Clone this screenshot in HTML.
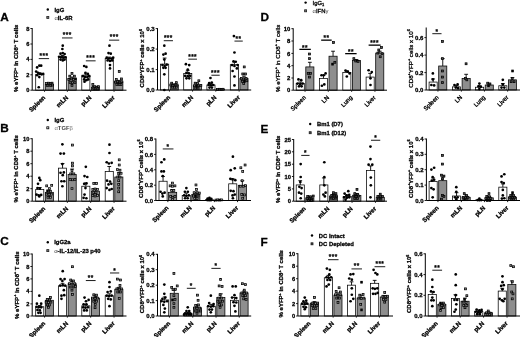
<!DOCTYPE html>
<html><head><meta charset="utf-8"><title>Figure</title>
<style>html,body{margin:0;padding:0;background:#fff}svg{display:block;filter:blur(0.35px)}text{font-family:'Liberation Sans', sans-serif;fill:#000;stroke:#000;stroke-width:.28px}tspan[fill]{stroke:none}.nb text{stroke-width:.3px}</style>
</head><body>
<svg width="520" height="337" viewBox="0 0 520 337">
<rect width="520" height="337" fill="#fff"/>
<g>
<rect x="35.7" y="74.3" width="8.1" height="15.9" fill="#fff" stroke="#000" stroke-width="0.75"/>
<path d="M39.75 74.3V72.83M37.85 72.83H41.65" stroke="#000" stroke-width="0.9" fill="none"/>
<rect x="45.3" y="84.46" width="8.1" height="5.74" fill="#8e8e8e" stroke="#000" stroke-width="0.75"/>
<path d="M49.35 84.46V83.54M47.45 83.54H51.25" stroke="#000" stroke-width="0.9" fill="none"/>
<text transform="translate(45.75,98) rotate(-45)" text-anchor="end" font-size="6.2" font-weight="bold">Spleen</text>
<rect x="58.5" y="56.77" width="8.1" height="33.43" fill="#fff" stroke="#000" stroke-width="0.75"/>
<path d="M62.55 56.77V55.48M60.65 55.48H64.45" stroke="#000" stroke-width="0.9" fill="none"/>
<rect x="68.1" y="78.37" width="8.1" height="11.83" fill="#8e8e8e" stroke="#000" stroke-width="0.75"/>
<path d="M72.15 78.37V77.07M70.25 77.07H74.05" stroke="#000" stroke-width="0.9" fill="none"/>
<text transform="translate(68.55,98) rotate(-45)" text-anchor="end" font-size="6.2" font-weight="bold">mLN</text>
<rect x="81.8" y="75.23" width="8.1" height="14.97" fill="#fff" stroke="#000" stroke-width="0.75"/>
<path d="M85.85 75.23V73.94M83.95 73.94H87.75" stroke="#000" stroke-width="0.9" fill="none"/>
<rect x="91.4" y="87.23" width="8.1" height="2.97" fill="#8e8e8e" stroke="#000" stroke-width="0.75"/>
<path d="M95.45 87.23V86.49M93.55 86.49H97.35" stroke="#000" stroke-width="0.9" fill="none"/>
<text transform="translate(91.85,98) rotate(-45)" text-anchor="end" font-size="6.2" font-weight="bold">pLN</text>
<rect x="105.2" y="58.61" width="8.1" height="31.59" fill="#fff" stroke="#000" stroke-width="0.75"/>
<path d="M109.25 58.61V57.14M107.35 57.14H111.15" stroke="#000" stroke-width="0.9" fill="none"/>
<rect x="114.8" y="81.69" width="8.1" height="8.51" fill="#8e8e8e" stroke="#000" stroke-width="0.75"/>
<path d="M118.85 81.69V80.4M116.95 80.4H120.75" stroke="#000" stroke-width="0.9" fill="none"/>
<text transform="translate(115.25,98) rotate(-45)" text-anchor="end" font-size="6.2" font-weight="bold">Liver</text>
<circle cx="37.09" cy="67.47" r="1.35"/>
<circle cx="39.31" cy="65.63" r="1.35"/>
<circle cx="41.15" cy="65.63" r="1.35"/>
<circle cx="36.17" cy="71.54" r="1.35"/>
<circle cx="38.01" cy="72.83" r="1.35"/>
<circle cx="39.86" cy="73.94" r="1.35"/>
<circle cx="41.71" cy="74.3" r="1.35"/>
<circle cx="43.18" cy="73.94" r="1.35"/>
<circle cx="37.09" cy="75.23" r="1.35"/>
<circle cx="39.31" cy="77.07" r="1.35"/>
<circle cx="38.75" cy="87.23" r="1.35"/>
<rect x="45.56" y="82.59" width="1.9" height="1.9" fill="#777" stroke="#000" stroke-width="0.75"/>
<rect x="47.4" y="82.22" width="1.9" height="1.9" fill="#777" stroke="#000" stroke-width="0.75"/>
<rect x="49.25" y="82.59" width="1.9" height="1.9" fill="#777" stroke="#000" stroke-width="0.75"/>
<rect x="51.09" y="82.22" width="1.9" height="1.9" fill="#777" stroke="#000" stroke-width="0.75"/>
<rect x="46.3" y="84.43" width="1.9" height="1.9" fill="#777" stroke="#000" stroke-width="0.75"/>
<rect x="48.14" y="84.25" width="1.9" height="1.9" fill="#777" stroke="#000" stroke-width="0.75"/>
<rect x="49.99" y="84.43" width="1.9" height="1.9" fill="#777" stroke="#000" stroke-width="0.75"/>
<rect x="51.46" y="84.06" width="1.9" height="1.9" fill="#777" stroke="#000" stroke-width="0.75"/>
<circle cx="62.75" cy="45.69" r="1.35"/>
<circle cx="62.38" cy="49.01" r="1.35"/>
<circle cx="60.54" cy="53.63" r="1.35"/>
<circle cx="62.75" cy="53.08" r="1.35"/>
<circle cx="64.6" cy="54" r="1.35"/>
<circle cx="59.06" cy="56.77" r="1.35"/>
<circle cx="60.91" cy="57.32" r="1.35"/>
<circle cx="63.12" cy="57.69" r="1.35"/>
<circle cx="65.34" cy="57.32" r="1.35"/>
<circle cx="60.54" cy="59.54" r="1.35"/>
<circle cx="62.75" cy="60.46" r="1.35"/>
<circle cx="64.6" cy="59.54" r="1.35"/>
<rect x="71.03" y="72.43" width="1.9" height="1.9" fill="#777" stroke="#000" stroke-width="0.75"/>
<rect x="68.82" y="75.2" width="1.9" height="1.9" fill="#777" stroke="#000" stroke-width="0.75"/>
<rect x="73.43" y="75.2" width="1.9" height="1.9" fill="#777" stroke="#000" stroke-width="0.75"/>
<rect x="67.89" y="78.52" width="1.9" height="1.9" fill="#777" stroke="#000" stroke-width="0.75"/>
<rect x="70.29" y="77.97" width="1.9" height="1.9" fill="#777" stroke="#000" stroke-width="0.75"/>
<rect x="72.51" y="78.52" width="1.9" height="1.9" fill="#777" stroke="#000" stroke-width="0.75"/>
<rect x="74.72" y="77.97" width="1.9" height="1.9" fill="#777" stroke="#000" stroke-width="0.75"/>
<rect x="69.19" y="81.66" width="1.9" height="1.9" fill="#777" stroke="#000" stroke-width="0.75"/>
<rect x="71.59" y="81.66" width="1.9" height="1.9" fill="#777" stroke="#000" stroke-width="0.75"/>
<rect x="73.99" y="81.66" width="1.9" height="1.9" fill="#777" stroke="#000" stroke-width="0.75"/>
<rect x="71.03" y="84.43" width="1.9" height="1.9" fill="#777" stroke="#000" stroke-width="0.75"/>
<circle cx="84.17" cy="66" r="1.35"/>
<circle cx="86.38" cy="66.92" r="1.35"/>
<circle cx="85.46" cy="72.83" r="1.35"/>
<circle cx="87.86" cy="73.94" r="1.35"/>
<circle cx="83.06" cy="76.15" r="1.35"/>
<circle cx="84.9" cy="77.07" r="1.35"/>
<circle cx="87.3" cy="77.07" r="1.35"/>
<circle cx="89.15" cy="76.15" r="1.35"/>
<circle cx="84.17" cy="79.47" r="1.35"/>
<circle cx="86.38" cy="80.21" r="1.35"/>
<circle cx="88.23" cy="79.47" r="1.35"/>
<circle cx="84.54" cy="81.69" r="1.35"/>
<rect x="91.89" y="83.51" width="1.9" height="1.9" fill="#777" stroke="#000" stroke-width="0.75"/>
<rect x="92.08" y="86.28" width="1.9" height="1.9" fill="#777" stroke="#000" stroke-width="0.75"/>
<rect x="93.92" y="85.72" width="1.9" height="1.9" fill="#777" stroke="#000" stroke-width="0.75"/>
<rect x="95.77" y="86.28" width="1.9" height="1.9" fill="#777" stroke="#000" stroke-width="0.75"/>
<rect x="97.62" y="85.72" width="1.9" height="1.9" fill="#777" stroke="#000" stroke-width="0.75"/>
<rect x="93" y="87.94" width="1.9" height="1.9" fill="#777" stroke="#000" stroke-width="0.75"/>
<rect x="95.03" y="87.94" width="1.9" height="1.9" fill="#777" stroke="#000" stroke-width="0.75"/>
<rect x="96.88" y="87.94" width="1.9" height="1.9" fill="#777" stroke="#000" stroke-width="0.75"/>
<circle cx="109.46" cy="45.69" r="1.35"/>
<circle cx="108.53" cy="53.08" r="1.35"/>
<circle cx="110.75" cy="53.63" r="1.35"/>
<circle cx="106.69" cy="57.69" r="1.35"/>
<circle cx="108.9" cy="58.61" r="1.35"/>
<circle cx="111.3" cy="58.61" r="1.35"/>
<circle cx="113.15" cy="57.69" r="1.35"/>
<circle cx="107.61" cy="60.46" r="1.35"/>
<circle cx="110.01" cy="61.01" r="1.35"/>
<circle cx="112.23" cy="60.46" r="1.35"/>
<circle cx="110.01" cy="65.07" r="1.35"/>
<circle cx="110.01" cy="68.4" r="1.35"/>
<rect x="118.29" y="70.59" width="1.9" height="1.9" fill="#777" stroke="#000" stroke-width="0.75"/>
<rect x="115.34" y="78.52" width="1.9" height="1.9" fill="#777" stroke="#000" stroke-width="0.75"/>
<rect x="120.51" y="77.97" width="1.9" height="1.9" fill="#777" stroke="#000" stroke-width="0.75"/>
<rect x="114.6" y="81.11" width="1.9" height="1.9" fill="#777" stroke="#000" stroke-width="0.75"/>
<rect x="116.81" y="80.74" width="1.9" height="1.9" fill="#777" stroke="#000" stroke-width="0.75"/>
<rect x="119.03" y="81.11" width="1.9" height="1.9" fill="#777" stroke="#000" stroke-width="0.75"/>
<rect x="120.88" y="80.74" width="1.9" height="1.9" fill="#777" stroke="#000" stroke-width="0.75"/>
<rect x="115.89" y="83.51" width="1.9" height="1.9" fill="#777" stroke="#000" stroke-width="0.75"/>
<rect x="118.29" y="83.51" width="1.9" height="1.9" fill="#777" stroke="#000" stroke-width="0.75"/>
<rect x="120.14" y="83.51" width="1.9" height="1.9" fill="#777" stroke="#000" stroke-width="0.75"/>
<path d="M32.2 28.05V90.2H126.5" stroke="#000" stroke-width="1" fill="none"/>
<path d="M44.55 90.2v1.6" stroke="#000" stroke-width="0.9"/>
<path d="M67.35 90.2v1.6" stroke="#000" stroke-width="0.9"/>
<path d="M90.65 90.2v1.6" stroke="#000" stroke-width="0.9"/>
<path d="M114.05 90.2v1.6" stroke="#000" stroke-width="0.9"/>
<path d="M30.4 90.2H32.2" stroke="#000" stroke-width="0.9"/>
<text x="29.4" y="92.25" text-anchor="end" font-size="5.7" font-weight="bold">0</text>
<path d="M30.4 74.8H32.2" stroke="#000" stroke-width="0.9"/>
<text x="29.4" y="76.85" text-anchor="end" font-size="5.7" font-weight="bold">2</text>
<path d="M30.4 59.4H32.2" stroke="#000" stroke-width="0.9"/>
<text x="29.4" y="61.45" text-anchor="end" font-size="5.7" font-weight="bold">4</text>
<path d="M30.4 44H32.2" stroke="#000" stroke-width="0.9"/>
<text x="29.4" y="46.05" text-anchor="end" font-size="5.7" font-weight="bold">6</text>
<path d="M30.4 28.5H32.2" stroke="#000" stroke-width="0.9"/>
<text x="29.4" y="30.55" text-anchor="end" font-size="5.7" font-weight="bold">8</text>
<text transform="translate(18.3,58.25) rotate(-90)" text-anchor="middle" font-size="6.0" font-weight="bold">% eYFP<tspan dy="-2.28" font-size="3.72">+</tspan><tspan dy="2.28"> in CD8</tspan><tspan dy="-2.28" font-size="3.72">+</tspan><tspan dy="2.28"> T cells</tspan></text>
<path d="M38.75 58.61H49.09" stroke="#000" stroke-width="0.9"/>
<text x="43.92" y="57.76" text-anchor="middle" font-size="6.4" letter-spacing="0.5" font-weight="bold" style="stroke-width:.22px">***</text>
<path d="M62.01 37.94H72.54" stroke="#000" stroke-width="0.9"/>
<text x="67.27" y="37.08" text-anchor="middle" font-size="6.4" letter-spacing="0.5" font-weight="bold" style="stroke-width:.22px">***</text>
<path d="M85.83 60.83H95.61" stroke="#000" stroke-width="0.9"/>
<text x="90.72" y="59.97" text-anchor="middle" font-size="6.4" letter-spacing="0.5" font-weight="bold" style="stroke-width:.22px">***</text>
<path d="M109.09 40.15H119.24" stroke="#000" stroke-width="0.9"/>
<text x="114.16" y="39.3" text-anchor="middle" font-size="6.4" letter-spacing="0.5" font-weight="bold" style="stroke-width:.22px">***</text>
</g>
<g>
<rect x="160.6" y="64.15" width="8.1" height="25.85" fill="#fff" stroke="#000" stroke-width="0.75"/>
<path d="M164.65 64.15V58.06M162.75 58.06H166.55" stroke="#000" stroke-width="0.9" fill="none"/>
<rect x="170.2" y="85.01" width="8.1" height="4.99" fill="#8e8e8e" stroke="#000" stroke-width="0.75"/>
<path d="M174.25 85.01V83.9M172.35 83.9H176.15" stroke="#000" stroke-width="0.9" fill="none"/>
<text transform="translate(170.65,97.8) rotate(-45)" text-anchor="end" font-size="6.2" font-weight="bold">Spleen</text>
<rect x="183.7" y="73.38" width="8.1" height="16.62" fill="#fff" stroke="#000" stroke-width="0.75"/>
<path d="M187.75 73.38V70.24M185.85 70.24H189.65" stroke="#000" stroke-width="0.9" fill="none"/>
<rect x="193.3" y="85.38" width="8.1" height="4.62" fill="#8e8e8e" stroke="#000" stroke-width="0.75"/>
<path d="M197.35 85.38V83.9M195.45 83.9H199.25" stroke="#000" stroke-width="0.9" fill="none"/>
<text transform="translate(193.75,97.8) rotate(-45)" text-anchor="end" font-size="6.2" font-weight="bold">mLN</text>
<rect x="206.9" y="85.01" width="8.1" height="4.99" fill="#fff" stroke="#000" stroke-width="0.75"/>
<path d="M210.95 85.01V83.17M209.05 83.17H212.85" stroke="#000" stroke-width="0.9" fill="none"/>
<rect x="216.5" y="89.07" width="8.1" height="0.93" fill="#8e8e8e" stroke="#000" stroke-width="0.75"/>
<path d="M220.55 89.07V88.7M218.65 88.7H222.45" stroke="#000" stroke-width="0.9" fill="none"/>
<text transform="translate(216.95,97.8) rotate(-45)" text-anchor="end" font-size="6.2" font-weight="bold">pLN</text>
<rect x="230.3" y="64.71" width="8.1" height="25.29" fill="#fff" stroke="#000" stroke-width="0.75"/>
<path d="M234.35 64.71V61.75M232.45 61.75H236.25" stroke="#000" stroke-width="0.9" fill="none"/>
<rect x="239.9" y="78.37" width="8.1" height="11.63" fill="#8e8e8e" stroke="#000" stroke-width="0.75"/>
<path d="M243.95 78.37V76.15M242.05 76.15H245.85" stroke="#000" stroke-width="0.9" fill="none"/>
<text transform="translate(240.35,97.8) rotate(-45)" text-anchor="end" font-size="6.2" font-weight="bold">Liver</text>
<circle cx="164.31" cy="45.69" r="1.35"/>
<circle cx="163.38" cy="54.55" r="1.35"/>
<circle cx="165.6" cy="53.63" r="1.35"/>
<circle cx="164.31" cy="59.54" r="1.35"/>
<circle cx="162.46" cy="65.07" r="1.35"/>
<circle cx="164.68" cy="66" r="1.35"/>
<circle cx="166.71" cy="64.71" r="1.35"/>
<circle cx="163.38" cy="67.84" r="1.35"/>
<circle cx="165.6" cy="67.84" r="1.35"/>
<circle cx="164.31" cy="74.3" r="1.35"/>
<circle cx="164.31" cy="90" r="1.35"/>
<rect x="170.74" y="82.22" width="1.9" height="1.9" fill="#777" stroke="#000" stroke-width="0.75"/>
<rect x="175.36" y="81.66" width="1.9" height="1.9" fill="#777" stroke="#000" stroke-width="0.75"/>
<rect x="169.82" y="84.06" width="1.9" height="1.9" fill="#777" stroke="#000" stroke-width="0.75"/>
<rect x="172.03" y="84.43" width="1.9" height="1.9" fill="#777" stroke="#000" stroke-width="0.75"/>
<rect x="174.25" y="84.06" width="1.9" height="1.9" fill="#777" stroke="#000" stroke-width="0.75"/>
<rect x="176.09" y="84.06" width="1.9" height="1.9" fill="#777" stroke="#000" stroke-width="0.75"/>
<rect x="171.3" y="86.28" width="1.9" height="1.9" fill="#777" stroke="#000" stroke-width="0.75"/>
<rect x="173.51" y="86.28" width="1.9" height="1.9" fill="#777" stroke="#000" stroke-width="0.75"/>
<rect x="175.36" y="86.28" width="1.9" height="1.9" fill="#777" stroke="#000" stroke-width="0.75"/>
<circle cx="185.91" cy="64.15" r="1.35"/>
<circle cx="189.23" cy="65.07" r="1.35"/>
<circle cx="187.75" cy="69.69" r="1.35"/>
<circle cx="186.46" cy="72.83" r="1.35"/>
<circle cx="188.86" cy="73.38" r="1.35"/>
<circle cx="185.17" cy="75.78" r="1.35"/>
<circle cx="187.75" cy="76.15" r="1.35"/>
<circle cx="190.15" cy="75.78" r="1.35"/>
<circle cx="186.46" cy="78.37" r="1.35"/>
<circle cx="189.23" cy="78.37" r="1.35"/>
<rect x="197.88" y="79.82" width="1.9" height="1.9" fill="#777" stroke="#000" stroke-width="0.75"/>
<rect x="194.19" y="82.22" width="1.9" height="1.9" fill="#777" stroke="#000" stroke-width="0.75"/>
<rect x="196.59" y="82.59" width="1.9" height="1.9" fill="#777" stroke="#000" stroke-width="0.75"/>
<rect x="193.45" y="84.8" width="1.9" height="1.9" fill="#777" stroke="#000" stroke-width="0.75"/>
<rect x="195.66" y="84.99" width="1.9" height="1.9" fill="#777" stroke="#000" stroke-width="0.75"/>
<rect x="197.88" y="84.8" width="1.9" height="1.9" fill="#777" stroke="#000" stroke-width="0.75"/>
<rect x="199.91" y="84.43" width="1.9" height="1.9" fill="#777" stroke="#000" stroke-width="0.75"/>
<rect x="194.74" y="87.2" width="1.9" height="1.9" fill="#777" stroke="#000" stroke-width="0.75"/>
<rect x="197.14" y="87.2" width="1.9" height="1.9" fill="#777" stroke="#000" stroke-width="0.75"/>
<circle cx="210.46" cy="78" r="1.35"/>
<circle cx="209.17" cy="83.17" r="1.35"/>
<circle cx="211.75" cy="82.61" r="1.35"/>
<circle cx="208.61" cy="85.01" r="1.35"/>
<circle cx="210.83" cy="85.38" r="1.35"/>
<circle cx="213.23" cy="85.01" r="1.35"/>
<circle cx="209.54" cy="87.6" r="1.35"/>
<circle cx="211.94" cy="87.6" r="1.35"/>
<rect x="216.52" y="88.49" width="1.9" height="1.9" fill="#777" stroke="#000" stroke-width="0.75"/>
<rect x="218.37" y="88.31" width="1.9" height="1.9" fill="#777" stroke="#000" stroke-width="0.75"/>
<rect x="220.22" y="88.49" width="1.9" height="1.9" fill="#777" stroke="#000" stroke-width="0.75"/>
<rect x="222.06" y="88.31" width="1.9" height="1.9" fill="#777" stroke="#000" stroke-width="0.75"/>
<circle cx="233.9" cy="36.09" r="1.35"/>
<circle cx="234.46" cy="52.52" r="1.35"/>
<circle cx="233.53" cy="61.38" r="1.35"/>
<circle cx="235.75" cy="61.75" r="1.35"/>
<circle cx="232.06" cy="65.07" r="1.35"/>
<circle cx="234.46" cy="66" r="1.35"/>
<circle cx="236.86" cy="68.4" r="1.35"/>
<circle cx="237.59" cy="65.07" r="1.35"/>
<circle cx="232.61" cy="70.98" r="1.35"/>
<circle cx="234.46" cy="76.52" r="1.35"/>
<circle cx="234.46" cy="85.38" r="1.35"/>
<rect x="243.29" y="65.97" width="1.9" height="1.9" fill="#777" stroke="#000" stroke-width="0.75"/>
<rect x="241.81" y="72.99" width="1.9" height="1.9" fill="#777" stroke="#000" stroke-width="0.75"/>
<rect x="244.58" y="72.99" width="1.9" height="1.9" fill="#777" stroke="#000" stroke-width="0.75"/>
<rect x="240.34" y="77.42" width="1.9" height="1.9" fill="#777" stroke="#000" stroke-width="0.75"/>
<rect x="242.74" y="77.97" width="1.9" height="1.9" fill="#777" stroke="#000" stroke-width="0.75"/>
<rect x="245.14" y="77.42" width="1.9" height="1.9" fill="#777" stroke="#000" stroke-width="0.75"/>
<rect x="241.44" y="80.37" width="1.9" height="1.9" fill="#777" stroke="#000" stroke-width="0.75"/>
<rect x="243.66" y="80.37" width="1.9" height="1.9" fill="#777" stroke="#000" stroke-width="0.75"/>
<rect x="245.88" y="79.82" width="1.9" height="1.9" fill="#777" stroke="#000" stroke-width="0.75"/>
<rect x="242.74" y="82.59" width="1.9" height="1.9" fill="#777" stroke="#000" stroke-width="0.75"/>
<path d="M157.5 28.15V90H251.2" stroke="#000" stroke-width="1" fill="none"/>
<path d="M169.45 90v1.6" stroke="#000" stroke-width="0.9"/>
<path d="M192.55 90v1.6" stroke="#000" stroke-width="0.9"/>
<path d="M215.75 90v1.6" stroke="#000" stroke-width="0.9"/>
<path d="M239.15 90v1.6" stroke="#000" stroke-width="0.9"/>
<path d="M155.7 90H157.5" stroke="#000" stroke-width="0.9"/>
<text x="154.7" y="92.16" text-anchor="end" font-size="6.0" font-weight="bold">0.0</text>
<path d="M155.7 69.6H157.5" stroke="#000" stroke-width="0.9"/>
<text x="154.7" y="71.76" text-anchor="end" font-size="6.0" font-weight="bold">0.1</text>
<path d="M155.7 49.1H157.5" stroke="#000" stroke-width="0.9"/>
<text x="154.7" y="51.26" text-anchor="end" font-size="6.0" font-weight="bold">0.2</text>
<path d="M155.7 28.6H157.5" stroke="#000" stroke-width="0.9"/>
<text x="154.7" y="30.76" text-anchor="end" font-size="6.0" font-weight="bold">0.3</text>
<text transform="translate(144.2,58.2) rotate(-90)" text-anchor="middle" font-size="6.0" font-weight="bold">CD8<tspan dy="-2.28" font-size="3.72">+</tspan><tspan dy="2.28">YFP</tspan><tspan dy="-2.28" font-size="3.72">+</tspan><tspan dy="2.28"> cells x 10</tspan><tspan dy="-2.28" font-size="3.72">6</tspan></text>
<path d="M163.75 40.71H172.98" stroke="#000" stroke-width="0.9"/>
<text x="168.37" y="40.35" text-anchor="middle" font-size="6.4" letter-spacing="0.5" font-weight="bold" style="stroke-width:.22px">***</text>
<path d="M188.31 59.17H196.98" stroke="#000" stroke-width="0.9"/>
<text x="192.64" y="58.81" text-anchor="middle" font-size="6.4" letter-spacing="0.5" font-weight="bold" style="stroke-width:.22px">***</text>
<path d="M211.38 75.23H219.69" stroke="#000" stroke-width="0.9"/>
<text x="215.53" y="74.87" text-anchor="middle" font-size="6.4" letter-spacing="0.5" font-weight="bold" style="stroke-width:.22px">***</text>
<path d="M234.46 41.08H242.76" stroke="#000" stroke-width="0.9"/>
<text x="238.61" y="40.72" text-anchor="middle" font-size="6.4" letter-spacing="0.5" font-weight="bold" style="stroke-width:.22px">**</text>
</g>
<g>
<rect x="35.7" y="189.37" width="8.1" height="11.83" fill="#fff" stroke="#000" stroke-width="0.75"/>
<path d="M39.75 189.37V187.52M37.85 187.52H41.65" stroke="#000" stroke-width="0.9" fill="none"/>
<rect x="45.3" y="192.32" width="8.1" height="8.88" fill="#8e8e8e" stroke="#000" stroke-width="0.75"/>
<path d="M49.35 192.32V190.47M47.45 190.47H51.25" stroke="#000" stroke-width="0.9" fill="none"/>
<text transform="translate(45.75,209) rotate(-45)" text-anchor="end" font-size="6.2" font-weight="bold">Spleen</text>
<rect x="58.5" y="168.14" width="8.1" height="33.06" fill="#fff" stroke="#000" stroke-width="0.75"/>
<path d="M62.55 168.14V163.52M60.65 163.52H64.45" stroke="#000" stroke-width="0.9" fill="none"/>
<rect x="68.1" y="174.6" width="8.1" height="26.6" fill="#8e8e8e" stroke="#000" stroke-width="0.75"/>
<path d="M72.15 174.6V169.06M70.25 169.06H74.05" stroke="#000" stroke-width="0.9" fill="none"/>
<text transform="translate(68.55,209) rotate(-45)" text-anchor="end" font-size="6.2" font-weight="bold">mLN</text>
<rect x="81.8" y="186.23" width="8.1" height="14.97" fill="#fff" stroke="#000" stroke-width="0.75"/>
<path d="M85.85 186.23V183.09M83.95 183.09H87.75" stroke="#000" stroke-width="0.9" fill="none"/>
<rect x="91.4" y="191.21" width="8.1" height="9.99" fill="#8e8e8e" stroke="#000" stroke-width="0.75"/>
<path d="M95.45 191.21V189.37M93.55 189.37H97.35" stroke="#000" stroke-width="0.9" fill="none"/>
<text transform="translate(91.85,209) rotate(-45)" text-anchor="end" font-size="6.2" font-weight="bold">pLN</text>
<rect x="105.2" y="171.46" width="8.1" height="29.74" fill="#fff" stroke="#000" stroke-width="0.75"/>
<path d="M109.25 171.46V166.48M107.35 166.48H111.15" stroke="#000" stroke-width="0.9" fill="none"/>
<rect x="114.8" y="177" width="8.1" height="24.2" fill="#8e8e8e" stroke="#000" stroke-width="0.75"/>
<path d="M118.85 177V172.38M116.95 172.38H120.75" stroke="#000" stroke-width="0.9" fill="none"/>
<text transform="translate(115.25,209) rotate(-45)" text-anchor="end" font-size="6.2" font-weight="bold">Liver</text>
<circle cx="39.31" cy="177.92" r="1.35"/>
<circle cx="40.23" cy="180.14" r="1.35"/>
<circle cx="38.01" cy="183.83" r="1.35"/>
<circle cx="37.46" cy="188.07" r="1.35"/>
<circle cx="39.86" cy="188.63" r="1.35"/>
<circle cx="36.54" cy="194.54" r="1.35"/>
<circle cx="38.75" cy="195.46" r="1.35"/>
<circle cx="41.15" cy="194.9" r="1.35"/>
<circle cx="39.31" cy="196.38" r="1.35"/>
<rect x="45.74" y="184.91" width="1.9" height="1.9" fill="#a8a8a8" stroke="#000" stroke-width="0.75"/>
<rect x="50.73" y="184.35" width="1.9" height="1.9" fill="#a8a8a8" stroke="#000" stroke-width="0.75"/>
<rect x="48.51" y="187.68" width="1.9" height="1.9" fill="#a8a8a8" stroke="#000" stroke-width="0.75"/>
<rect x="46.66" y="189.89" width="1.9" height="1.9" fill="#a8a8a8" stroke="#000" stroke-width="0.75"/>
<rect x="49.43" y="190.26" width="1.9" height="1.9" fill="#a8a8a8" stroke="#000" stroke-width="0.75"/>
<rect x="45.74" y="193.22" width="1.9" height="1.9" fill="#a8a8a8" stroke="#000" stroke-width="0.75"/>
<rect x="48.14" y="193.59" width="1.9" height="1.9" fill="#a8a8a8" stroke="#000" stroke-width="0.75"/>
<rect x="50.36" y="193.22" width="1.9" height="1.9" fill="#a8a8a8" stroke="#000" stroke-width="0.75"/>
<rect x="47.03" y="196.35" width="1.9" height="1.9" fill="#a8a8a8" stroke="#000" stroke-width="0.75"/>
<rect x="49.43" y="196.35" width="1.9" height="1.9" fill="#a8a8a8" stroke="#000" stroke-width="0.75"/>
<circle cx="62.38" cy="144.32" r="1.35"/>
<circle cx="60.54" cy="153.55" r="1.35"/>
<circle cx="63.86" cy="153.55" r="1.35"/>
<circle cx="62.38" cy="164.08" r="1.35"/>
<circle cx="60.54" cy="172.75" r="1.35"/>
<circle cx="63.86" cy="172.38" r="1.35"/>
<circle cx="62.75" cy="175.15" r="1.35"/>
<circle cx="61.46" cy="181.24" r="1.35"/>
<circle cx="64.23" cy="181.24" r="1.35"/>
<circle cx="62.38" cy="186.23" r="1.35"/>
<rect x="71.59" y="144.11" width="1.9" height="1.9" fill="#a8a8a8" stroke="#000" stroke-width="0.75"/>
<rect x="71.59" y="162.2" width="1.9" height="1.9" fill="#a8a8a8" stroke="#000" stroke-width="0.75"/>
<rect x="71.59" y="164.97" width="1.9" height="1.9" fill="#a8a8a8" stroke="#000" stroke-width="0.75"/>
<rect x="71.03" y="169.59" width="1.9" height="1.9" fill="#a8a8a8" stroke="#000" stroke-width="0.75"/>
<rect x="69.74" y="172.91" width="1.9" height="1.9" fill="#a8a8a8" stroke="#000" stroke-width="0.75"/>
<rect x="72.88" y="172.91" width="1.9" height="1.9" fill="#a8a8a8" stroke="#000" stroke-width="0.75"/>
<rect x="69.19" y="178.45" width="1.9" height="1.9" fill="#a8a8a8" stroke="#000" stroke-width="0.75"/>
<rect x="71.59" y="178.82" width="1.9" height="1.9" fill="#a8a8a8" stroke="#000" stroke-width="0.75"/>
<rect x="73.99" y="178.45" width="1.9" height="1.9" fill="#a8a8a8" stroke="#000" stroke-width="0.75"/>
<rect x="71.03" y="187.68" width="1.9" height="1.9" fill="#a8a8a8" stroke="#000" stroke-width="0.75"/>
<circle cx="85.83" cy="166.84" r="1.35"/>
<circle cx="84.54" cy="176.07" r="1.35"/>
<circle cx="87.3" cy="177" r="1.35"/>
<circle cx="84.17" cy="183.83" r="1.35"/>
<circle cx="86.38" cy="183.46" r="1.35"/>
<circle cx="85.46" cy="188.07" r="1.35"/>
<circle cx="84.54" cy="194.54" r="1.35"/>
<circle cx="83.61" cy="197.86" r="1.35"/>
<circle cx="86.38" cy="198.23" r="1.35"/>
<rect x="92.82" y="182.51" width="1.9" height="1.9" fill="#a8a8a8" stroke="#000" stroke-width="0.75"/>
<rect x="95.58" y="182.51" width="1.9" height="1.9" fill="#a8a8a8" stroke="#000" stroke-width="0.75"/>
<rect x="91.89" y="188.42" width="1.9" height="1.9" fill="#a8a8a8" stroke="#000" stroke-width="0.75"/>
<rect x="94.11" y="188.05" width="1.9" height="1.9" fill="#a8a8a8" stroke="#000" stroke-width="0.75"/>
<rect x="96.51" y="188.42" width="1.9" height="1.9" fill="#a8a8a8" stroke="#000" stroke-width="0.75"/>
<rect x="92.82" y="191.74" width="1.9" height="1.9" fill="#a8a8a8" stroke="#000" stroke-width="0.75"/>
<rect x="95.03" y="191.74" width="1.9" height="1.9" fill="#a8a8a8" stroke="#000" stroke-width="0.75"/>
<rect x="91.89" y="194.51" width="1.9" height="1.9" fill="#a8a8a8" stroke="#000" stroke-width="0.75"/>
<rect x="94.11" y="195.06" width="1.9" height="1.9" fill="#a8a8a8" stroke="#000" stroke-width="0.75"/>
<rect x="96.51" y="194.51" width="1.9" height="1.9" fill="#a8a8a8" stroke="#000" stroke-width="0.75"/>
<circle cx="109.46" cy="144.69" r="1.35"/>
<circle cx="109.46" cy="153" r="1.35"/>
<circle cx="106.69" cy="162.23" r="1.35"/>
<circle cx="108.9" cy="163.52" r="1.35"/>
<circle cx="111.67" cy="162.78" r="1.35"/>
<circle cx="107.06" cy="180.69" r="1.35"/>
<circle cx="110.01" cy="181.61" r="1.35"/>
<circle cx="108.53" cy="184.38" r="1.35"/>
<circle cx="111.3" cy="183.83" r="1.35"/>
<circle cx="106.69" cy="188.07" r="1.35"/>
<circle cx="109.46" cy="189.92" r="1.35"/>
<circle cx="111.67" cy="189" r="1.35"/>
<rect x="118.29" y="158.88" width="1.9" height="1.9" fill="#a8a8a8" stroke="#000" stroke-width="0.75"/>
<rect x="118.29" y="164.05" width="1.9" height="1.9" fill="#a8a8a8" stroke="#000" stroke-width="0.75"/>
<rect x="116.44" y="168.66" width="1.9" height="1.9" fill="#a8a8a8" stroke="#000" stroke-width="0.75"/>
<rect x="119.03" y="169.22" width="1.9" height="1.9" fill="#a8a8a8" stroke="#000" stroke-width="0.75"/>
<rect x="117.74" y="172.91" width="1.9" height="1.9" fill="#a8a8a8" stroke="#000" stroke-width="0.75"/>
<rect x="120.14" y="172.36" width="1.9" height="1.9" fill="#a8a8a8" stroke="#000" stroke-width="0.75"/>
<rect x="116.81" y="176.05" width="1.9" height="1.9" fill="#a8a8a8" stroke="#000" stroke-width="0.75"/>
<rect x="119.03" y="176.05" width="1.9" height="1.9" fill="#a8a8a8" stroke="#000" stroke-width="0.75"/>
<rect x="117.74" y="179.74" width="1.9" height="1.9" fill="#a8a8a8" stroke="#000" stroke-width="0.75"/>
<rect x="117.74" y="183.43" width="1.9" height="1.9" fill="#a8a8a8" stroke="#000" stroke-width="0.75"/>
<rect x="117.74" y="187.12" width="1.9" height="1.9" fill="#a8a8a8" stroke="#000" stroke-width="0.75"/>
<rect x="117.74" y="190.82" width="1.9" height="1.9" fill="#a8a8a8" stroke="#000" stroke-width="0.75"/>
<path d="M32.2 138.25V201.2H126.5" stroke="#000" stroke-width="1" fill="none"/>
<path d="M44.55 201.2v1.6" stroke="#000" stroke-width="0.9"/>
<path d="M67.35 201.2v1.6" stroke="#000" stroke-width="0.9"/>
<path d="M90.65 201.2v1.6" stroke="#000" stroke-width="0.9"/>
<path d="M114.05 201.2v1.6" stroke="#000" stroke-width="0.9"/>
<path d="M30.4 201.2H32.2" stroke="#000" stroke-width="0.9"/>
<text x="29.4" y="203.25" text-anchor="end" font-size="5.7" font-weight="bold">0</text>
<path d="M30.4 188.7H32.2" stroke="#000" stroke-width="0.9"/>
<text x="29.4" y="190.75" text-anchor="end" font-size="5.7" font-weight="bold">2</text>
<path d="M30.4 176.2H32.2" stroke="#000" stroke-width="0.9"/>
<text x="29.4" y="178.25" text-anchor="end" font-size="5.7" font-weight="bold">4</text>
<path d="M30.4 163.7H32.2" stroke="#000" stroke-width="0.9"/>
<text x="29.4" y="165.75" text-anchor="end" font-size="5.7" font-weight="bold">6</text>
<path d="M30.4 151.2H32.2" stroke="#000" stroke-width="0.9"/>
<text x="29.4" y="153.25" text-anchor="end" font-size="5.7" font-weight="bold">8</text>
<path d="M30.4 138.7H32.2" stroke="#000" stroke-width="0.9"/>
<text x="29.4" y="140.75" text-anchor="end" font-size="5.7" font-weight="bold">10</text>
<text transform="translate(18.3,168.85) rotate(-90)" text-anchor="middle" font-size="6.0" font-weight="bold">% eYFP<tspan dy="-2.28" font-size="3.72">+</tspan><tspan dy="2.28"> in CD8</tspan><tspan dy="-2.28" font-size="3.72">+</tspan><tspan dy="2.28"> T cells</tspan></text>
</g>
<g>
<rect x="159" y="181.24" width="8.1" height="19.26" fill="#fff" stroke="#000" stroke-width="0.75"/>
<path d="M163.05 181.24V176.44M161.15 176.44H164.95" stroke="#000" stroke-width="0.9" fill="none"/>
<rect x="168.6" y="192.32" width="8.1" height="8.18" fill="#8e8e8e" stroke="#000" stroke-width="0.75"/>
<path d="M172.65 192.32V189.92M170.75 189.92H174.55" stroke="#000" stroke-width="0.9" fill="none"/>
<text transform="translate(169.05,208.3) rotate(-45)" text-anchor="end" font-size="6.2" font-weight="bold">Spleen</text>
<rect x="182.2" y="195.46" width="8.1" height="5.04" fill="#fff" stroke="#000" stroke-width="0.75"/>
<path d="M186.25 195.46V193.06M184.35 193.06H188.15" stroke="#000" stroke-width="0.9" fill="none"/>
<rect x="191.8" y="194.54" width="8.1" height="5.96" fill="#8e8e8e" stroke="#000" stroke-width="0.75"/>
<path d="M195.85 194.54V192.32M193.95 192.32H197.75" stroke="#000" stroke-width="0.9" fill="none"/>
<text transform="translate(192.25,208.3) rotate(-45)" text-anchor="end" font-size="6.2" font-weight="bold">mLN</text>
<rect x="205.5" y="199.7" width="8.1" height="0.8" fill="#fff" stroke="#000" stroke-width="0.75"/>
<path d="M209.55 199.7V199.15M207.65 199.15H211.45" stroke="#000" stroke-width="0.9" fill="none"/>
<rect x="215.1" y="200.2" width="8.1" height="0.3" fill="#8e8e8e" stroke="#000" stroke-width="0.75"/>
<text transform="translate(215.55,208.3) rotate(-45)" text-anchor="end" font-size="6.2" font-weight="bold">pLN</text>
<rect x="228.7" y="183.83" width="8.1" height="16.67" fill="#fff" stroke="#000" stroke-width="0.75"/>
<path d="M232.75 183.83V178.84M230.85 178.84H234.65" stroke="#000" stroke-width="0.9" fill="none"/>
<rect x="238.3" y="185.3" width="8.1" height="15.2" fill="#8e8e8e" stroke="#000" stroke-width="0.75"/>
<path d="M242.35 185.3V180.69M240.45 180.69H244.25" stroke="#000" stroke-width="0.9" fill="none"/>
<text transform="translate(238.75,208.3) rotate(-45)" text-anchor="end" font-size="6.2" font-weight="bold">Liver</text>
<circle cx="161.46" cy="162.23" r="1.35"/>
<circle cx="164.23" cy="159.46" r="1.35"/>
<circle cx="161.46" cy="171.46" r="1.35"/>
<circle cx="163.86" cy="171.46" r="1.35"/>
<circle cx="162.75" cy="176.07" r="1.35"/>
<circle cx="160.54" cy="191.77" r="1.35"/>
<circle cx="162.38" cy="193.61" r="1.35"/>
<circle cx="164.6" cy="192.69" r="1.35"/>
<circle cx="162.75" cy="196.38" r="1.35"/>
<rect x="171.59" y="182.14" width="1.9" height="1.9" fill="#a8a8a8" stroke="#000" stroke-width="0.75"/>
<rect x="169.19" y="184.91" width="1.9" height="1.9" fill="#a8a8a8" stroke="#000" stroke-width="0.75"/>
<rect x="171.59" y="185.28" width="1.9" height="1.9" fill="#a8a8a8" stroke="#000" stroke-width="0.75"/>
<rect x="173.99" y="184.91" width="1.9" height="1.9" fill="#a8a8a8" stroke="#000" stroke-width="0.75"/>
<rect x="170.66" y="189.52" width="1.9" height="1.9" fill="#a8a8a8" stroke="#000" stroke-width="0.75"/>
<rect x="172.88" y="189.52" width="1.9" height="1.9" fill="#a8a8a8" stroke="#000" stroke-width="0.75"/>
<rect x="169.74" y="195.43" width="1.9" height="1.9" fill="#a8a8a8" stroke="#000" stroke-width="0.75"/>
<rect x="171.96" y="196.35" width="1.9" height="1.9" fill="#a8a8a8" stroke="#000" stroke-width="0.75"/>
<rect x="173.99" y="195.43" width="1.9" height="1.9" fill="#a8a8a8" stroke="#000" stroke-width="0.75"/>
<rect x="171.59" y="198.75" width="1.9" height="1.9" fill="#a8a8a8" stroke="#000" stroke-width="0.75"/>
<circle cx="186.38" cy="188.07" r="1.35"/>
<circle cx="184.91" cy="191.77" r="1.35"/>
<circle cx="187.86" cy="191.77" r="1.35"/>
<circle cx="184.17" cy="195.46" r="1.35"/>
<circle cx="186.38" cy="196.01" r="1.35"/>
<circle cx="188.78" cy="195.46" r="1.35"/>
<circle cx="185.09" cy="198.23" r="1.35"/>
<circle cx="187.67" cy="198.23" r="1.35"/>
<rect x="195.03" y="183.99" width="1.9" height="1.9" fill="#a8a8a8" stroke="#000" stroke-width="0.75"/>
<rect x="195.59" y="188.42" width="1.9" height="1.9" fill="#a8a8a8" stroke="#000" stroke-width="0.75"/>
<rect x="193.19" y="191.74" width="1.9" height="1.9" fill="#a8a8a8" stroke="#000" stroke-width="0.75"/>
<rect x="196.14" y="191.74" width="1.9" height="1.9" fill="#a8a8a8" stroke="#000" stroke-width="0.75"/>
<rect x="198.35" y="192.11" width="1.9" height="1.9" fill="#a8a8a8" stroke="#000" stroke-width="0.75"/>
<rect x="192.45" y="195.06" width="1.9" height="1.9" fill="#a8a8a8" stroke="#000" stroke-width="0.75"/>
<rect x="194.66" y="195.43" width="1.9" height="1.9" fill="#a8a8a8" stroke="#000" stroke-width="0.75"/>
<rect x="197.06" y="195.06" width="1.9" height="1.9" fill="#a8a8a8" stroke="#000" stroke-width="0.75"/>
<rect x="193.74" y="197.65" width="1.9" height="1.9" fill="#a8a8a8" stroke="#000" stroke-width="0.75"/>
<rect x="196.14" y="197.65" width="1.9" height="1.9" fill="#a8a8a8" stroke="#000" stroke-width="0.75"/>
<circle cx="207.61" cy="198.6" r="1.35"/>
<circle cx="209.46" cy="197.86" r="1.35"/>
<circle cx="211.3" cy="198.78" r="1.35"/>
<circle cx="207.24" cy="200.07" r="1.35"/>
<circle cx="209.09" cy="200.26" r="1.35"/>
<circle cx="210.94" cy="200.26" r="1.35"/>
<rect x="214.97" y="199.12" width="1.9" height="1.9" fill="#a8a8a8" stroke="#000" stroke-width="0.75"/>
<rect x="216.82" y="198.94" width="1.9" height="1.9" fill="#a8a8a8" stroke="#000" stroke-width="0.75"/>
<rect x="218.66" y="199.12" width="1.9" height="1.9" fill="#a8a8a8" stroke="#000" stroke-width="0.75"/>
<rect x="220.51" y="198.94" width="1.9" height="1.9" fill="#a8a8a8" stroke="#000" stroke-width="0.75"/>
<circle cx="232.9" cy="156.69" r="1.35"/>
<circle cx="230.69" cy="170.17" r="1.35"/>
<circle cx="234.75" cy="168.32" r="1.35"/>
<circle cx="230.32" cy="178.84" r="1.35"/>
<circle cx="232.53" cy="179.4" r="1.35"/>
<circle cx="235.3" cy="180.14" r="1.35"/>
<circle cx="230.69" cy="190.84" r="1.35"/>
<circle cx="233.46" cy="191.21" r="1.35"/>
<circle cx="232.53" cy="195.46" r="1.35"/>
<circle cx="234.75" cy="194.54" r="1.35"/>
<circle cx="232.9" cy="198.23" r="1.35"/>
<rect x="239.89" y="166.82" width="1.9" height="1.9" fill="#a8a8a8" stroke="#000" stroke-width="0.75"/>
<rect x="244.14" y="164.05" width="1.9" height="1.9" fill="#a8a8a8" stroke="#000" stroke-width="0.75"/>
<rect x="241.74" y="170.51" width="1.9" height="1.9" fill="#a8a8a8" stroke="#000" stroke-width="0.75"/>
<rect x="241.18" y="179.74" width="1.9" height="1.9" fill="#a8a8a8" stroke="#000" stroke-width="0.75"/>
<rect x="239.34" y="185.28" width="1.9" height="1.9" fill="#a8a8a8" stroke="#000" stroke-width="0.75"/>
<rect x="242.29" y="185.28" width="1.9" height="1.9" fill="#a8a8a8" stroke="#000" stroke-width="0.75"/>
<rect x="244.51" y="184.72" width="1.9" height="1.9" fill="#a8a8a8" stroke="#000" stroke-width="0.75"/>
<rect x="240.81" y="193.59" width="1.9" height="1.9" fill="#a8a8a8" stroke="#000" stroke-width="0.75"/>
<rect x="243.58" y="193.95" width="1.9" height="1.9" fill="#a8a8a8" stroke="#000" stroke-width="0.75"/>
<rect x="241.74" y="197.28" width="1.9" height="1.9" fill="#a8a8a8" stroke="#000" stroke-width="0.75"/>
<path d="M155.9 138.55V200.5H251" stroke="#000" stroke-width="1" fill="none"/>
<path d="M167.85 200.5v1.6" stroke="#000" stroke-width="0.9"/>
<path d="M191.05 200.5v1.6" stroke="#000" stroke-width="0.9"/>
<path d="M214.35 200.5v1.6" stroke="#000" stroke-width="0.9"/>
<path d="M237.55 200.5v1.6" stroke="#000" stroke-width="0.9"/>
<path d="M154.1 200.5H155.9" stroke="#000" stroke-width="0.9"/>
<text x="153.1" y="202.66" text-anchor="end" font-size="6.0" font-weight="bold">0.0</text>
<path d="M154.1 185.2H155.9" stroke="#000" stroke-width="0.9"/>
<text x="153.1" y="187.36" text-anchor="end" font-size="6.0" font-weight="bold">0.2</text>
<path d="M154.1 169.8H155.9" stroke="#000" stroke-width="0.9"/>
<text x="153.1" y="171.96" text-anchor="end" font-size="6.0" font-weight="bold">0.4</text>
<path d="M154.1 154.4H155.9" stroke="#000" stroke-width="0.9"/>
<text x="153.1" y="156.56" text-anchor="end" font-size="6.0" font-weight="bold">0.6</text>
<path d="M154.1 139H155.9" stroke="#000" stroke-width="0.9"/>
<text x="153.1" y="141.16" text-anchor="end" font-size="6.0" font-weight="bold">0.8</text>
<text transform="translate(142.6,168.65) rotate(-90)" text-anchor="middle" font-size="6.0" font-weight="bold">CD8<tspan dy="-2.28" font-size="3.72">+</tspan><tspan dy="2.28">YFP</tspan><tspan dy="-2.28" font-size="3.72">+</tspan><tspan dy="2.28"> cells x 10</tspan><tspan dy="-2.28" font-size="3.72">6</tspan></text>
<path d="M162.75 148.94H173.46" stroke="#000" stroke-width="0.9"/>
<text x="168.11" y="148.88" text-anchor="middle" font-size="6.4" letter-spacing="0.5" font-weight="bold" style="stroke-width:.22px">*</text>
</g>
<g>
<rect x="35.7" y="306.77" width="8.1" height="9.23" fill="#fff" stroke="#000" stroke-width="0.75"/>
<path d="M39.75 306.77V305.47M37.85 305.47H41.65" stroke="#000" stroke-width="0.9" fill="none"/>
<rect x="45.3" y="300.3" width="8.1" height="15.7" fill="#8e8e8e" stroke="#000" stroke-width="0.75"/>
<path d="M49.35 300.3V298.83M47.45 298.83H51.25" stroke="#000" stroke-width="0.9" fill="none"/>
<text transform="translate(45.75,323.8) rotate(-45)" text-anchor="end" font-size="6.2" font-weight="bold">Spleen</text>
<rect x="58.5" y="285.91" width="8.1" height="30.09" fill="#fff" stroke="#000" stroke-width="0.75"/>
<path d="M62.55 285.91V283.32M60.65 283.32H64.45" stroke="#000" stroke-width="0.9" fill="none"/>
<rect x="68.1" y="283.69" width="8.1" height="32.31" fill="#8e8e8e" stroke="#000" stroke-width="0.75"/>
<path d="M72.15 283.69V281.48M70.25 281.48H74.05" stroke="#000" stroke-width="0.9" fill="none"/>
<text transform="translate(68.55,323.8) rotate(-45)" text-anchor="end" font-size="6.2" font-weight="bold">mLN</text>
<rect x="81.8" y="305.84" width="8.1" height="10.16" fill="#fff" stroke="#000" stroke-width="0.75"/>
<path d="M85.85 305.84V304.37M83.95 304.37H87.75" stroke="#000" stroke-width="0.9" fill="none"/>
<rect x="91.4" y="298.09" width="8.1" height="17.91" fill="#8e8e8e" stroke="#000" stroke-width="0.75"/>
<path d="M95.45 298.09V296.61M93.55 296.61H97.35" stroke="#000" stroke-width="0.9" fill="none"/>
<text transform="translate(91.85,323.8) rotate(-45)" text-anchor="end" font-size="6.2" font-weight="bold">pLN</text>
<rect x="105.2" y="295.69" width="8.1" height="20.31" fill="#fff" stroke="#000" stroke-width="0.75"/>
<path d="M109.25 295.69V293.84M107.35 293.84H111.15" stroke="#000" stroke-width="0.9" fill="none"/>
<rect x="114.8" y="289.23" width="8.1" height="26.77" fill="#8e8e8e" stroke="#000" stroke-width="0.75"/>
<path d="M118.85 289.23V287.38M116.95 287.38H120.75" stroke="#000" stroke-width="0.9" fill="none"/>
<text transform="translate(115.25,323.8) rotate(-45)" text-anchor="end" font-size="6.2" font-weight="bold">Liver</text>
<circle cx="39.31" cy="295.69" r="1.35"/>
<circle cx="36.91" cy="303.63" r="1.35"/>
<circle cx="41.15" cy="303.63" r="1.35"/>
<circle cx="36.54" cy="306.77" r="1.35"/>
<circle cx="38.75" cy="307.32" r="1.35"/>
<circle cx="41.15" cy="307.32" r="1.35"/>
<circle cx="37.46" cy="309.9" r="1.35"/>
<circle cx="39.86" cy="310.46" r="1.35"/>
<circle cx="38.38" cy="312.86" r="1.35"/>
<circle cx="40.6" cy="312.86" r="1.35"/>
<rect x="49.43" y="296.59" width="1.9" height="1.9" fill="#909090" stroke="#000" stroke-width="0.75"/>
<rect x="46.3" y="298.43" width="1.9" height="1.9" fill="#909090" stroke="#000" stroke-width="0.75"/>
<rect x="48.51" y="298.99" width="1.9" height="1.9" fill="#909090" stroke="#000" stroke-width="0.75"/>
<rect x="45.19" y="301.2" width="1.9" height="1.9" fill="#909090" stroke="#000" stroke-width="0.75"/>
<rect x="47.59" y="301.57" width="1.9" height="1.9" fill="#909090" stroke="#000" stroke-width="0.75"/>
<rect x="49.99" y="301.2" width="1.9" height="1.9" fill="#909090" stroke="#000" stroke-width="0.75"/>
<rect x="46.3" y="303.97" width="1.9" height="1.9" fill="#909090" stroke="#000" stroke-width="0.75"/>
<rect x="48.51" y="303.97" width="1.9" height="1.9" fill="#909090" stroke="#000" stroke-width="0.75"/>
<rect x="47.59" y="306.37" width="1.9" height="1.9" fill="#909090" stroke="#000" stroke-width="0.75"/>
<circle cx="62.75" cy="271.14" r="1.35"/>
<circle cx="60.54" cy="279.08" r="1.35"/>
<circle cx="64.6" cy="279.08" r="1.35"/>
<circle cx="62.38" cy="280.92" r="1.35"/>
<circle cx="60.17" cy="285.54" r="1.35"/>
<circle cx="62.75" cy="285.17" r="1.35"/>
<circle cx="65.15" cy="285.54" r="1.35"/>
<circle cx="63.86" cy="290.15" r="1.35"/>
<circle cx="61.46" cy="295.69" r="1.35"/>
<circle cx="64.23" cy="295.14" r="1.35"/>
<circle cx="61.46" cy="298.83" r="1.35"/>
<rect x="71.59" y="265.76" width="1.9" height="1.9" fill="#909090" stroke="#000" stroke-width="0.75"/>
<rect x="69.74" y="279.05" width="1.9" height="1.9" fill="#909090" stroke="#000" stroke-width="0.75"/>
<rect x="72.51" y="279.97" width="1.9" height="1.9" fill="#909090" stroke="#000" stroke-width="0.75"/>
<rect x="68.45" y="282.74" width="1.9" height="1.9" fill="#909090" stroke="#000" stroke-width="0.75"/>
<rect x="71.03" y="283.11" width="1.9" height="1.9" fill="#909090" stroke="#000" stroke-width="0.75"/>
<rect x="73.8" y="282.74" width="1.9" height="1.9" fill="#909090" stroke="#000" stroke-width="0.75"/>
<rect x="69.19" y="286.06" width="1.9" height="1.9" fill="#909090" stroke="#000" stroke-width="0.75"/>
<rect x="72.14" y="286.06" width="1.9" height="1.9" fill="#909090" stroke="#000" stroke-width="0.75"/>
<rect x="74.35" y="285.51" width="1.9" height="1.9" fill="#909090" stroke="#000" stroke-width="0.75"/>
<rect x="71.03" y="289.2" width="1.9" height="1.9" fill="#909090" stroke="#000" stroke-width="0.75"/>
<rect x="71.59" y="293.45" width="1.9" height="1.9" fill="#909090" stroke="#000" stroke-width="0.75"/>
<circle cx="84.54" cy="297.54" r="1.35"/>
<circle cx="86.01" cy="301.23" r="1.35"/>
<circle cx="88.6" cy="299.94" r="1.35"/>
<circle cx="83.61" cy="304.37" r="1.35"/>
<circle cx="86.38" cy="304.37" r="1.35"/>
<circle cx="83.24" cy="307.32" r="1.35"/>
<circle cx="85.46" cy="307.69" r="1.35"/>
<circle cx="87.86" cy="307.32" r="1.35"/>
<circle cx="84.17" cy="310.46" r="1.35"/>
<circle cx="86.75" cy="310.46" r="1.35"/>
<rect x="92.82" y="293.82" width="1.9" height="1.9" fill="#909090" stroke="#000" stroke-width="0.75"/>
<rect x="95.58" y="294.19" width="1.9" height="1.9" fill="#909090" stroke="#000" stroke-width="0.75"/>
<rect x="91.52" y="297.14" width="1.9" height="1.9" fill="#909090" stroke="#000" stroke-width="0.75"/>
<rect x="94.11" y="297.51" width="1.9" height="1.9" fill="#909090" stroke="#000" stroke-width="0.75"/>
<rect x="96.51" y="297.14" width="1.9" height="1.9" fill="#909090" stroke="#000" stroke-width="0.75"/>
<rect x="92.82" y="300.28" width="1.9" height="1.9" fill="#909090" stroke="#000" stroke-width="0.75"/>
<rect x="95.58" y="300.28" width="1.9" height="1.9" fill="#909090" stroke="#000" stroke-width="0.75"/>
<rect x="94.29" y="303.42" width="1.9" height="1.9" fill="#909090" stroke="#000" stroke-width="0.75"/>
<rect x="94.11" y="306.74" width="1.9" height="1.9" fill="#909090" stroke="#000" stroke-width="0.75"/>
<circle cx="109.46" cy="282.21" r="1.35"/>
<circle cx="109.46" cy="287.01" r="1.35"/>
<circle cx="107.61" cy="292" r="1.35"/>
<circle cx="110.75" cy="291.44" r="1.35"/>
<circle cx="106.69" cy="295.69" r="1.35"/>
<circle cx="109.09" cy="296.24" r="1.35"/>
<circle cx="111.67" cy="295.69" r="1.35"/>
<circle cx="108.16" cy="298.83" r="1.35"/>
<circle cx="110.75" cy="299.38" r="1.35"/>
<circle cx="109.46" cy="306.21" r="1.35"/>
<rect x="116.44" y="278.13" width="1.9" height="1.9" fill="#909090" stroke="#000" stroke-width="0.75"/>
<rect x="119.58" y="279.05" width="1.9" height="1.9" fill="#909090" stroke="#000" stroke-width="0.75"/>
<rect x="119.03" y="284.59" width="1.9" height="1.9" fill="#909090" stroke="#000" stroke-width="0.75"/>
<rect x="115.89" y="287.91" width="1.9" height="1.9" fill="#909090" stroke="#000" stroke-width="0.75"/>
<rect x="118.29" y="288.28" width="1.9" height="1.9" fill="#909090" stroke="#000" stroke-width="0.75"/>
<rect x="120.51" y="287.91" width="1.9" height="1.9" fill="#909090" stroke="#000" stroke-width="0.75"/>
<rect x="116.81" y="291.05" width="1.9" height="1.9" fill="#909090" stroke="#000" stroke-width="0.75"/>
<rect x="119.4" y="291.05" width="1.9" height="1.9" fill="#909090" stroke="#000" stroke-width="0.75"/>
<rect x="118.29" y="297.51" width="1.9" height="1.9" fill="#909090" stroke="#000" stroke-width="0.75"/>
<path d="M32.2 253.55V316H126.5" stroke="#000" stroke-width="1" fill="none"/>
<path d="M44.55 316v1.6" stroke="#000" stroke-width="0.9"/>
<path d="M67.35 316v1.6" stroke="#000" stroke-width="0.9"/>
<path d="M90.65 316v1.6" stroke="#000" stroke-width="0.9"/>
<path d="M114.05 316v1.6" stroke="#000" stroke-width="0.9"/>
<path d="M30.4 316H32.2" stroke="#000" stroke-width="0.9"/>
<text x="29.4" y="318.05" text-anchor="end" font-size="5.7" font-weight="bold">0</text>
<path d="M30.4 303.9H32.2" stroke="#000" stroke-width="0.9"/>
<text x="29.4" y="305.95" text-anchor="end" font-size="5.7" font-weight="bold">2</text>
<path d="M30.4 291.4H32.2" stroke="#000" stroke-width="0.9"/>
<text x="29.4" y="293.45" text-anchor="end" font-size="5.7" font-weight="bold">4</text>
<path d="M30.4 278.9H32.2" stroke="#000" stroke-width="0.9"/>
<text x="29.4" y="280.95" text-anchor="end" font-size="5.7" font-weight="bold">6</text>
<path d="M30.4 266.5H32.2" stroke="#000" stroke-width="0.9"/>
<text x="29.4" y="268.55" text-anchor="end" font-size="5.7" font-weight="bold">8</text>
<path d="M30.4 254H32.2" stroke="#000" stroke-width="0.9"/>
<text x="29.4" y="256.05" text-anchor="end" font-size="5.7" font-weight="bold">10</text>
<text transform="translate(18.7,285.2) rotate(-90)" text-anchor="middle" font-size="6.0" font-weight="bold">% eYFP<tspan dy="-2.28" font-size="3.72">+</tspan><tspan dy="2.28"> in CD8</tspan><tspan dy="-2.28" font-size="3.72">+</tspan><tspan dy="2.28"> T cells</tspan></text>
<path d="M85.83 280.55H95.61" stroke="#000" stroke-width="0.9"/>
<text x="90.72" y="280.2" text-anchor="middle" font-size="6.4" letter-spacing="0.5" font-weight="bold" style="stroke-width:.22px">**</text>
<path d="M110.01 272.98H119.24" stroke="#000" stroke-width="0.9"/>
<text x="114.63" y="272.63" text-anchor="middle" font-size="6.4" letter-spacing="0.5" font-weight="bold" style="stroke-width:.22px">*</text>
</g>
<g>
<rect x="160.6" y="299.94" width="8.1" height="16.06" fill="#fff" stroke="#000" stroke-width="0.75"/>
<path d="M164.65 299.94V296.98M162.75 296.98H166.55" stroke="#000" stroke-width="0.9" fill="none"/>
<rect x="170.2" y="293.29" width="8.1" height="22.71" fill="#8e8e8e" stroke="#000" stroke-width="0.75"/>
<path d="M174.25 293.29V290.15M172.35 290.15H176.15" stroke="#000" stroke-width="0.9" fill="none"/>
<text transform="translate(170.65,323.8) rotate(-45)" text-anchor="end" font-size="6.2" font-weight="bold">Spleen</text>
<rect x="183.9" y="313.23" width="8.1" height="2.77" fill="#fff" stroke="#000" stroke-width="0.75"/>
<path d="M187.95 313.23V312.3M186.05 312.3H189.85" stroke="#000" stroke-width="0.9" fill="none"/>
<rect x="193.5" y="307.69" width="8.1" height="8.31" fill="#8e8e8e" stroke="#000" stroke-width="0.75"/>
<path d="M197.55 307.69V305.84M195.65 305.84H199.45" stroke="#000" stroke-width="0.9" fill="none"/>
<text transform="translate(193.95,323.8) rotate(-45)" text-anchor="end" font-size="6.2" font-weight="bold">mLN</text>
<rect x="207.2" y="306.21" width="8.1" height="9.79" fill="#fff" stroke="#000" stroke-width="0.75"/>
<path d="M211.25 306.21V304.37M209.35 304.37H213.15" stroke="#000" stroke-width="0.9" fill="none"/>
<rect x="216.8" y="297.54" width="8.1" height="18.46" fill="#8e8e8e" stroke="#000" stroke-width="0.75"/>
<path d="M220.85 297.54V293.84M218.95 293.84H222.75" stroke="#000" stroke-width="0.9" fill="none"/>
<text transform="translate(217.25,323.8) rotate(-45)" text-anchor="end" font-size="6.2" font-weight="bold">pLN</text>
<rect x="230.4" y="300.3" width="8.1" height="15.7" fill="#fff" stroke="#000" stroke-width="0.75"/>
<path d="M234.45 300.3V297.54M232.55 297.54H236.35" stroke="#000" stroke-width="0.9" fill="none"/>
<rect x="240" y="292.92" width="8.1" height="23.08" fill="#8e8e8e" stroke="#000" stroke-width="0.75"/>
<path d="M244.05 292.92V291.07M242.15 291.07H245.95" stroke="#000" stroke-width="0.9" fill="none"/>
<text transform="translate(240.45,323.8) rotate(-45)" text-anchor="end" font-size="6.2" font-weight="bold">Liver</text>
<circle cx="164.31" cy="284.61" r="1.35"/>
<circle cx="164.31" cy="293.84" r="1.35"/>
<circle cx="162.46" cy="298.83" r="1.35"/>
<circle cx="165.23" cy="297.54" r="1.35"/>
<circle cx="161.54" cy="301.23" r="1.35"/>
<circle cx="164.31" cy="301.78" r="1.35"/>
<circle cx="167.08" cy="301.23" r="1.35"/>
<circle cx="163.38" cy="304.92" r="1.35"/>
<circle cx="164.86" cy="308.61" r="1.35"/>
<circle cx="164.31" cy="312.3" r="1.35"/>
<rect x="172.96" y="272.59" width="1.9" height="1.9" fill="#909090" stroke="#000" stroke-width="0.75"/>
<rect x="170.74" y="286.43" width="1.9" height="1.9" fill="#909090" stroke="#000" stroke-width="0.75"/>
<rect x="176.28" y="284.96" width="1.9" height="1.9" fill="#909090" stroke="#000" stroke-width="0.75"/>
<rect x="172.03" y="288.65" width="1.9" height="1.9" fill="#909090" stroke="#000" stroke-width="0.75"/>
<rect x="174.43" y="288.28" width="1.9" height="1.9" fill="#909090" stroke="#000" stroke-width="0.75"/>
<rect x="172.96" y="294.74" width="1.9" height="1.9" fill="#909090" stroke="#000" stroke-width="0.75"/>
<rect x="171.66" y="298.99" width="1.9" height="1.9" fill="#909090" stroke="#000" stroke-width="0.75"/>
<rect x="174.06" y="298.43" width="1.9" height="1.9" fill="#909090" stroke="#000" stroke-width="0.75"/>
<rect x="172.96" y="302.68" width="1.9" height="1.9" fill="#909090" stroke="#000" stroke-width="0.75"/>
<rect x="172.96" y="306.37" width="1.9" height="1.9" fill="#909090" stroke="#000" stroke-width="0.75"/>
<circle cx="187.75" cy="307.32" r="1.35"/>
<circle cx="186.46" cy="311.01" r="1.35"/>
<circle cx="189.23" cy="311.01" r="1.35"/>
<circle cx="185.17" cy="313.23" r="1.35"/>
<circle cx="187.75" cy="313.23" r="1.35"/>
<circle cx="190.15" cy="313.23" r="1.35"/>
<circle cx="184.06" cy="314.7" r="1.35"/>
<circle cx="186.46" cy="314.7" r="1.35"/>
<circle cx="188.86" cy="314.7" r="1.35"/>
<circle cx="191.07" cy="314.7" r="1.35"/>
<rect x="196.59" y="294.19" width="1.9" height="1.9" fill="#909090" stroke="#000" stroke-width="0.75"/>
<rect x="197.14" y="299.35" width="1.9" height="1.9" fill="#909090" stroke="#000" stroke-width="0.75"/>
<rect x="194.74" y="304.52" width="1.9" height="1.9" fill="#909090" stroke="#000" stroke-width="0.75"/>
<rect x="197.51" y="303.97" width="1.9" height="1.9" fill="#909090" stroke="#000" stroke-width="0.75"/>
<rect x="193.45" y="307.11" width="1.9" height="1.9" fill="#909090" stroke="#000" stroke-width="0.75"/>
<rect x="196.03" y="307.66" width="1.9" height="1.9" fill="#909090" stroke="#000" stroke-width="0.75"/>
<rect x="198.8" y="307.11" width="1.9" height="1.9" fill="#909090" stroke="#000" stroke-width="0.75"/>
<rect x="194.19" y="310.06" width="1.9" height="1.9" fill="#909090" stroke="#000" stroke-width="0.75"/>
<rect x="197.14" y="310.06" width="1.9" height="1.9" fill="#909090" stroke="#000" stroke-width="0.75"/>
<rect x="199.35" y="310.06" width="1.9" height="1.9" fill="#909090" stroke="#000" stroke-width="0.75"/>
<rect x="196.03" y="312.28" width="1.9" height="1.9" fill="#909090" stroke="#000" stroke-width="0.75"/>
<circle cx="210.83" cy="295.69" r="1.35"/>
<circle cx="209.17" cy="303.07" r="1.35"/>
<circle cx="213.6" cy="304" r="1.35"/>
<circle cx="208.24" cy="306.21" r="1.35"/>
<circle cx="210.83" cy="306.77" r="1.35"/>
<circle cx="213.23" cy="306.21" r="1.35"/>
<circle cx="209.54" cy="309.54" r="1.35"/>
<circle cx="211.94" cy="309.54" r="1.35"/>
<circle cx="210.83" cy="312.3" r="1.35"/>
<rect x="219.66" y="278.49" width="1.9" height="1.9" fill="#909090" stroke="#000" stroke-width="0.75"/>
<rect x="218.18" y="284.96" width="1.9" height="1.9" fill="#909090" stroke="#000" stroke-width="0.75"/>
<rect x="221.14" y="285.51" width="1.9" height="1.9" fill="#909090" stroke="#000" stroke-width="0.75"/>
<rect x="219.11" y="293.82" width="1.9" height="1.9" fill="#909090" stroke="#000" stroke-width="0.75"/>
<rect x="217.82" y="297.14" width="1.9" height="1.9" fill="#909090" stroke="#000" stroke-width="0.75"/>
<rect x="220.58" y="297.14" width="1.9" height="1.9" fill="#909090" stroke="#000" stroke-width="0.75"/>
<rect x="216.89" y="300.28" width="1.9" height="1.9" fill="#909090" stroke="#000" stroke-width="0.75"/>
<rect x="219.11" y="300.83" width="1.9" height="1.9" fill="#909090" stroke="#000" stroke-width="0.75"/>
<rect x="221.51" y="300.28" width="1.9" height="1.9" fill="#909090" stroke="#000" stroke-width="0.75"/>
<rect x="218.18" y="303.42" width="1.9" height="1.9" fill="#909090" stroke="#000" stroke-width="0.75"/>
<rect x="220.58" y="303.97" width="1.9" height="1.9" fill="#909090" stroke="#000" stroke-width="0.75"/>
<rect x="219.11" y="306.37" width="1.9" height="1.9" fill="#909090" stroke="#000" stroke-width="0.75"/>
<circle cx="232.61" cy="286.46" r="1.35"/>
<circle cx="235.75" cy="286.46" r="1.35"/>
<circle cx="234.46" cy="295.14" r="1.35"/>
<circle cx="232.06" cy="297.54" r="1.35"/>
<circle cx="236.3" cy="298.09" r="1.35"/>
<circle cx="233.53" cy="302.15" r="1.35"/>
<circle cx="236.3" cy="302.52" r="1.35"/>
<circle cx="234.46" cy="305.84" r="1.35"/>
<circle cx="235.38" cy="311.38" r="1.35"/>
<rect x="241.44" y="282.74" width="1.9" height="1.9" fill="#909090" stroke="#000" stroke-width="0.75"/>
<rect x="244.58" y="283.66" width="1.9" height="1.9" fill="#909090" stroke="#000" stroke-width="0.75"/>
<rect x="243.29" y="289.2" width="1.9" height="1.9" fill="#909090" stroke="#000" stroke-width="0.75"/>
<rect x="240.89" y="291.97" width="1.9" height="1.9" fill="#909090" stroke="#000" stroke-width="0.75"/>
<rect x="243.29" y="292.34" width="1.9" height="1.9" fill="#909090" stroke="#000" stroke-width="0.75"/>
<rect x="245.51" y="291.97" width="1.9" height="1.9" fill="#909090" stroke="#000" stroke-width="0.75"/>
<rect x="241.81" y="294.74" width="1.9" height="1.9" fill="#909090" stroke="#000" stroke-width="0.75"/>
<rect x="244.58" y="294.74" width="1.9" height="1.9" fill="#909090" stroke="#000" stroke-width="0.75"/>
<rect x="242.74" y="297.88" width="1.9" height="1.9" fill="#909090" stroke="#000" stroke-width="0.75"/>
<rect x="245.14" y="298.43" width="1.9" height="1.9" fill="#909090" stroke="#000" stroke-width="0.75"/>
<path d="M157.5 253.85V316H251.2" stroke="#000" stroke-width="1" fill="none"/>
<path d="M169.45 316v1.6" stroke="#000" stroke-width="0.9"/>
<path d="M192.75 316v1.6" stroke="#000" stroke-width="0.9"/>
<path d="M216.05 316v1.6" stroke="#000" stroke-width="0.9"/>
<path d="M239.25 316v1.6" stroke="#000" stroke-width="0.9"/>
<path d="M155.7 316H157.5" stroke="#000" stroke-width="0.9"/>
<text x="154.7" y="318.16" text-anchor="end" font-size="6.0" font-weight="bold">0.0</text>
<path d="M155.7 300.6H157.5" stroke="#000" stroke-width="0.9"/>
<text x="154.7" y="302.76" text-anchor="end" font-size="6.0" font-weight="bold">0.1</text>
<path d="M155.7 285.2H157.5" stroke="#000" stroke-width="0.9"/>
<text x="154.7" y="287.36" text-anchor="end" font-size="6.0" font-weight="bold">0.2</text>
<path d="M155.7 269.7H157.5" stroke="#000" stroke-width="0.9"/>
<text x="154.7" y="271.86" text-anchor="end" font-size="6.0" font-weight="bold">0.3</text>
<path d="M155.7 254.3H157.5" stroke="#000" stroke-width="0.9"/>
<text x="154.7" y="256.46" text-anchor="end" font-size="6.0" font-weight="bold">0.4</text>
<text transform="translate(144.2,284.05) rotate(-90)" text-anchor="middle" font-size="6.0" font-weight="bold">CD8<tspan dy="-2.28" font-size="3.72">+</tspan><tspan dy="2.28">YFP</tspan><tspan dy="-2.28" font-size="3.72">+</tspan><tspan dy="2.28"> cells x 10</tspan><tspan dy="-2.28" font-size="3.72">6</tspan></text>
<path d="M186.83 288.31H195.69" stroke="#000" stroke-width="0.9"/>
<text x="191.26" y="287.95" text-anchor="middle" font-size="6.4" letter-spacing="0.5" font-weight="bold" style="stroke-width:.22px">*</text>
<path d="M211.38 268.37H220.61" stroke="#000" stroke-width="0.9"/>
<text x="216" y="268.01" text-anchor="middle" font-size="6.4" letter-spacing="0.5" font-weight="bold" style="stroke-width:.22px">*</text>
</g>
<g class="nb">
<rect x="296.2" y="83.54" width="8.1" height="6.66" fill="#fff" stroke="#000" stroke-width="0.75"/>
<path d="M300.25 83.54V82.06M298.35 82.06H302.15" stroke="#000" stroke-width="0.9" fill="none"/>
<rect x="305.8" y="66.92" width="8.1" height="23.28" fill="#8e8e8e" stroke="#000" stroke-width="0.75"/>
<path d="M309.85 66.92V62.31M307.95 62.31H311.75" stroke="#000" stroke-width="0.9" fill="none"/>
<text transform="translate(306.25,98) rotate(-45)" text-anchor="end" font-size="6.0" font-weight="normal">Spleen</text>
<rect x="319.4" y="78.37" width="8.1" height="11.83" fill="#fff" stroke="#000" stroke-width="0.75"/>
<path d="M323.45 78.37V75.23M321.55 75.23H325.35" stroke="#000" stroke-width="0.9" fill="none"/>
<rect x="329" y="56.21" width="8.1" height="33.99" fill="#8e8e8e" stroke="#000" stroke-width="0.75"/>
<path d="M333.05 56.21V51.23M331.15 51.23H334.95" stroke="#000" stroke-width="0.9" fill="none"/>
<text transform="translate(329.45,98) rotate(-45)" text-anchor="end" font-size="6.0" font-weight="normal">LN</text>
<rect x="342.8" y="72.46" width="8.1" height="17.74" fill="#fff" stroke="#000" stroke-width="0.75"/>
<path d="M346.85 72.46V70.98M344.95 70.98H348.75" stroke="#000" stroke-width="0.9" fill="none"/>
<rect x="352.4" y="60.46" width="8.1" height="29.74" fill="#8e8e8e" stroke="#000" stroke-width="0.75"/>
<path d="M356.45 60.46V59.54M354.55 59.54H358.35" stroke="#000" stroke-width="0.9" fill="none"/>
<text transform="translate(352.85,98) rotate(-45)" text-anchor="end" font-size="6.0" font-weight="normal">Lung</text>
<rect x="366.1" y="77.07" width="8.1" height="13.13" fill="#fff" stroke="#000" stroke-width="0.75"/>
<path d="M370.15 77.07V73.38M368.25 73.38H372.05" stroke="#000" stroke-width="0.9" fill="none"/>
<rect x="375.7" y="53.08" width="8.1" height="37.12" fill="#8e8e8e" stroke="#000" stroke-width="0.75"/>
<path d="M379.75 53.08V51.23M377.85 51.23H381.65" stroke="#000" stroke-width="0.9" fill="none"/>
<text transform="translate(376.15,98) rotate(-45)" text-anchor="end" font-size="6.0" font-weight="normal">Liver</text>
<circle cx="298.46" cy="79.47" r="1.35"/>
<circle cx="301.23" cy="80.21" r="1.35"/>
<circle cx="297.54" cy="83.54" r="1.35"/>
<circle cx="300.31" cy="84.46" r="1.35"/>
<circle cx="302.71" cy="83.54" r="1.35"/>
<circle cx="299.01" cy="86.3" r="1.35"/>
<circle cx="301.6" cy="86.3" r="1.35"/>
<rect x="308.59" y="53.05" width="1.9" height="1.9" fill="#555" stroke="#000" stroke-width="0.75"/>
<rect x="308.59" y="57.66" width="1.9" height="1.9" fill="#555" stroke="#000" stroke-width="0.75"/>
<rect x="307.3" y="72.43" width="1.9" height="1.9" fill="#555" stroke="#000" stroke-width="0.75"/>
<rect x="309.51" y="72.43" width="1.9" height="1.9" fill="#555" stroke="#000" stroke-width="0.75"/>
<rect x="308.59" y="76.12" width="1.9" height="1.9" fill="#555" stroke="#000" stroke-width="0.75"/>
<circle cx="325.6" cy="73.38" r="1.35"/>
<circle cx="321.54" cy="75.23" r="1.35"/>
<circle cx="323.75" cy="75.23" r="1.35"/>
<circle cx="324.31" cy="84.46" r="1.35"/>
<circle cx="321.91" cy="85.75" r="1.35"/>
<rect x="332.59" y="41.6" width="1.9" height="1.9" fill="#555" stroke="#000" stroke-width="0.75"/>
<rect x="333.88" y="61.36" width="1.9" height="1.9" fill="#555" stroke="#000" stroke-width="0.75"/>
<rect x="331.66" y="63.2" width="1.9" height="1.9" fill="#555" stroke="#000" stroke-width="0.75"/>
<circle cx="345.54" cy="70.61" r="1.35"/>
<circle cx="347.75" cy="71.54" r="1.35"/>
<circle cx="349.6" cy="73.38" r="1.35"/>
<circle cx="346.83" cy="76.52" r="1.35"/>
<rect x="352.89" y="57.66" width="1.9" height="1.9" fill="#555" stroke="#000" stroke-width="0.75"/>
<rect x="354.74" y="60.06" width="1.9" height="1.9" fill="#555" stroke="#000" stroke-width="0.75"/>
<rect x="357.14" y="60.43" width="1.9" height="1.9" fill="#555" stroke="#000" stroke-width="0.75"/>
<circle cx="368.61" cy="70.24" r="1.35"/>
<circle cx="371.75" cy="72.09" r="1.35"/>
<circle cx="370.46" cy="78.37" r="1.35"/>
<circle cx="370.46" cy="85.01" r="1.35"/>
<rect x="380.58" y="46.59" width="1.9" height="1.9" fill="#555" stroke="#000" stroke-width="0.75"/>
<rect x="377.81" y="48.99" width="1.9" height="1.9" fill="#555" stroke="#000" stroke-width="0.75"/>
<rect x="376.89" y="52.13" width="1.9" height="1.9" fill="#555" stroke="#000" stroke-width="0.75"/>
<rect x="381.14" y="52.68" width="1.9" height="1.9" fill="#555" stroke="#000" stroke-width="0.75"/>
<rect x="379.29" y="55.82" width="1.9" height="1.9" fill="#555" stroke="#000" stroke-width="0.75"/>
<path d="M293.2 28.25V90.2H387" stroke="#000" stroke-width="1" fill="none"/>
<path d="M305.05 90.2v1.6" stroke="#000" stroke-width="0.9"/>
<path d="M328.25 90.2v1.6" stroke="#000" stroke-width="0.9"/>
<path d="M351.65 90.2v1.6" stroke="#000" stroke-width="0.9"/>
<path d="M374.95 90.2v1.6" stroke="#000" stroke-width="0.9"/>
<path d="M291.4 90.2H293.2" stroke="#000" stroke-width="0.9"/>
<text x="290.4" y="92.32" text-anchor="end" font-size="5.9" font-weight="bold">0</text>
<path d="M291.4 78H293.2" stroke="#000" stroke-width="0.9"/>
<text x="290.4" y="80.12" text-anchor="end" font-size="5.9" font-weight="bold">2</text>
<path d="M291.4 65.7H293.2" stroke="#000" stroke-width="0.9"/>
<text x="290.4" y="67.82" text-anchor="end" font-size="5.9" font-weight="bold">4</text>
<path d="M291.4 53.4H293.2" stroke="#000" stroke-width="0.9"/>
<text x="290.4" y="55.52" text-anchor="end" font-size="5.9" font-weight="bold">6</text>
<path d="M291.4 41H293.2" stroke="#000" stroke-width="0.9"/>
<text x="290.4" y="43.12" text-anchor="end" font-size="5.9" font-weight="bold">8</text>
<path d="M291.4 28.7H293.2" stroke="#000" stroke-width="0.9"/>
<text x="290.4" y="30.82" text-anchor="end" font-size="5.9" font-weight="bold">10</text>
<text transform="translate(279.8,58.35) rotate(-90)" text-anchor="middle" font-size="6.2" font-weight="normal">% eYFP<tspan dy="-2.36" font-size="3.84">+</tspan><tspan dy="2.36"> in CD8</tspan><tspan dy="-2.36" font-size="3.84">+</tspan><tspan dy="2.36"> T cells</tspan></text>
<path d="M299.38 49.38H310.83" stroke="#000" stroke-width="1.3"/>
<text x="305.11" y="49.63" text-anchor="middle" font-size="6.4" letter-spacing="0.5" font-weight="bold" style="stroke-width:.22px">**</text>
<path d="M321.17 40.15H331.69" stroke="#000" stroke-width="1.3"/>
<text x="326.43" y="40.4" text-anchor="middle" font-size="6.4" letter-spacing="0.5" font-weight="bold" style="stroke-width:.22px">**</text>
<path d="M345.17 53.63H356.61" stroke="#000" stroke-width="1.3"/>
<text x="350.89" y="53.88" text-anchor="middle" font-size="6.4" letter-spacing="0.5" font-weight="bold" style="stroke-width:.22px">**</text>
<path d="M368.61 45.14H380.61" stroke="#000" stroke-width="1.3"/>
<text x="374.61" y="45.38" text-anchor="middle" font-size="6.4" letter-spacing="0.5" font-weight="bold" style="stroke-width:.22px">***</text>
</g>
<g class="nb">
<rect x="429.1" y="82.06" width="8.1" height="7.94" fill="#fff" stroke="#000" stroke-width="0.75"/>
<path d="M433.15 82.06V78.92M431.25 78.92H435.05" stroke="#000" stroke-width="0.9" fill="none"/>
<rect x="438.7" y="66" width="8.1" height="24" fill="#8e8e8e" stroke="#000" stroke-width="0.75"/>
<path d="M442.75 66V58.61M440.85 58.61H444.65" stroke="#000" stroke-width="0.9" fill="none"/>
<text transform="translate(439.15,97.8) rotate(-45)" text-anchor="end" font-size="6.0" font-weight="normal">Spleen</text>
<rect x="452.5" y="86.86" width="8.1" height="3.14" fill="#fff" stroke="#000" stroke-width="0.75"/>
<path d="M456.55 86.86V85.38M454.65 85.38H458.45" stroke="#000" stroke-width="0.9" fill="none"/>
<rect x="462.1" y="78.37" width="8.1" height="11.63" fill="#8e8e8e" stroke="#000" stroke-width="0.75"/>
<path d="M466.15 78.37V74.3M464.25 74.3H468.05" stroke="#000" stroke-width="0.9" fill="none"/>
<text transform="translate(462.55,97.8) rotate(-45)" text-anchor="end" font-size="6.0" font-weight="normal">LN</text>
<rect x="475.6" y="87.23" width="8.1" height="2.77" fill="#fff" stroke="#000" stroke-width="0.75"/>
<path d="M479.65 87.23V85.75M477.75 85.75H481.55" stroke="#000" stroke-width="0.9" fill="none"/>
<rect x="485.2" y="85.01" width="8.1" height="4.99" fill="#8e8e8e" stroke="#000" stroke-width="0.75"/>
<path d="M489.25 85.01V83.9M487.35 83.9H491.15" stroke="#000" stroke-width="0.9" fill="none"/>
<text transform="translate(485.65,97.8) rotate(-45)" text-anchor="end" font-size="6.0" font-weight="normal">Lung</text>
<rect x="498.8" y="85.75" width="8.1" height="4.25" fill="#fff" stroke="#000" stroke-width="0.75"/>
<path d="M502.85 85.75V83.54M500.95 83.54H504.75" stroke="#000" stroke-width="0.9" fill="none"/>
<rect x="508.4" y="79.84" width="8.1" height="10.16" fill="#8e8e8e" stroke="#000" stroke-width="0.75"/>
<path d="M512.45 79.84V77.63M510.55 77.63H514.35" stroke="#000" stroke-width="0.9" fill="none"/>
<text transform="translate(508.85,97.8) rotate(-45)" text-anchor="end" font-size="6.0" font-weight="normal">Liver</text>
<circle cx="432.86" cy="73.38" r="1.35"/>
<circle cx="432.86" cy="79.47" r="1.35"/>
<circle cx="431.38" cy="85.01" r="1.35"/>
<circle cx="434.15" cy="85.38" r="1.35"/>
<rect x="441.51" y="40.5" width="1.9" height="1.9" fill="#555" stroke="#000" stroke-width="0.75"/>
<rect x="441.51" y="57.66" width="1.9" height="1.9" fill="#555" stroke="#000" stroke-width="0.75"/>
<rect x="441.51" y="70.03" width="1.9" height="1.9" fill="#555" stroke="#000" stroke-width="0.75"/>
<rect x="441.51" y="76.12" width="1.9" height="1.9" fill="#555" stroke="#000" stroke-width="0.75"/>
<rect x="441.51" y="81.66" width="1.9" height="1.9" fill="#555" stroke="#000" stroke-width="0.75"/>
<circle cx="454.46" cy="85.01" r="1.35"/>
<circle cx="457.6" cy="84.46" r="1.35"/>
<circle cx="455.75" cy="87.6" r="1.35"/>
<circle cx="458.15" cy="88.15" r="1.35"/>
<rect x="465.14" y="62.83" width="1.9" height="1.9" fill="#555" stroke="#000" stroke-width="0.75"/>
<rect x="464.59" y="77.42" width="1.9" height="1.9" fill="#555" stroke="#000" stroke-width="0.75"/>
<rect x="465.88" y="78.89" width="1.9" height="1.9" fill="#555" stroke="#000" stroke-width="0.75"/>
<circle cx="479.38" cy="83.54" r="1.35"/>
<circle cx="478.46" cy="86.3" r="1.35"/>
<circle cx="480.86" cy="86.86" r="1.35"/>
<circle cx="479.38" cy="89.07" r="1.35"/>
<rect x="486.74" y="82.22" width="1.9" height="1.9" fill="#555" stroke="#000" stroke-width="0.75"/>
<rect x="488.95" y="82.95" width="1.9" height="1.9" fill="#555" stroke="#000" stroke-width="0.75"/>
<rect x="487.66" y="84.8" width="1.9" height="1.9" fill="#555" stroke="#000" stroke-width="0.75"/>
<circle cx="502.83" cy="79.84" r="1.35"/>
<circle cx="502.83" cy="84.46" r="1.35"/>
<circle cx="501.53" cy="87.6" r="1.35"/>
<circle cx="504.3" cy="87.6" r="1.35"/>
<rect x="511.66" y="70.03" width="1.9" height="1.9" fill="#555" stroke="#000" stroke-width="0.75"/>
<rect x="511.29" y="77.42" width="1.9" height="1.9" fill="#555" stroke="#000" stroke-width="0.75"/>
<rect x="510.18" y="80.74" width="1.9" height="1.9" fill="#555" stroke="#000" stroke-width="0.75"/>
<rect x="513.14" y="80.74" width="1.9" height="1.9" fill="#555" stroke="#000" stroke-width="0.75"/>
<path d="M426.2 27.5V90H520" stroke="#000" stroke-width="1" fill="none"/>
<path d="M437.95 90v1.6" stroke="#000" stroke-width="0.9"/>
<path d="M461.35 90v1.6" stroke="#000" stroke-width="0.9"/>
<path d="M484.45 90v1.6" stroke="#000" stroke-width="0.9"/>
<path d="M507.65 90v1.6" stroke="#000" stroke-width="0.9"/>
<path d="M424.4 90H426.2" stroke="#000" stroke-width="0.9"/>
<text x="423.4" y="92.16" text-anchor="end" font-size="6.0" font-weight="bold">0.0</text>
<path d="M424.4 72.6H426.2" stroke="#000" stroke-width="0.9"/>
<text x="423.4" y="74.76" text-anchor="end" font-size="6.0" font-weight="bold">0.2</text>
<path d="M424.4 55.1H426.2" stroke="#000" stroke-width="0.9"/>
<text x="423.4" y="57.26" text-anchor="end" font-size="6.0" font-weight="bold">0.4</text>
<path d="M424.4 37.6H426.2" stroke="#000" stroke-width="0.9"/>
<text x="423.4" y="39.76" text-anchor="end" font-size="6.0" font-weight="bold">0.6</text>
<text transform="translate(412.8,58.5) rotate(-90)" text-anchor="middle" font-size="6.2" font-weight="normal">CD8<tspan dy="-2.36" font-size="3.84">+</tspan><tspan dy="2.36">YFP</tspan><tspan dy="-2.36" font-size="3.84">+</tspan><tspan dy="2.36"> cells x 10</tspan><tspan dy="-2.36" font-size="3.84">6</tspan></text>
<path d="M432.31 33.69H441.54" stroke="#000" stroke-width="0.9"/>
<text x="436.92" y="33.74" text-anchor="middle" font-size="6.4" letter-spacing="0.5" font-weight="bold" style="stroke-width:.22px">*</text>
</g>
<g>
<rect x="296.2" y="184.94" width="8.1" height="16.26" fill="#fff" stroke="#000" stroke-width="0.75"/>
<path d="M300.25 184.94V180.69M298.35 180.69H302.15" stroke="#000" stroke-width="0.9" fill="none"/>
<rect x="305.8" y="197.86" width="8.1" height="3.34" fill="#8e8e8e" stroke="#000" stroke-width="0.75"/>
<path d="M309.85 197.86V196.75M307.95 196.75H311.75" stroke="#000" stroke-width="0.9" fill="none"/>
<text transform="translate(306.25,209) rotate(-45)" text-anchor="end" font-size="6.2" font-weight="bold">Spleen</text>
<rect x="319.8" y="184.94" width="8.1" height="16.26" fill="#fff" stroke="#000" stroke-width="0.75"/>
<path d="M323.85 184.94V177.92M321.95 177.92H325.75" stroke="#000" stroke-width="0.9" fill="none"/>
<rect x="329.4" y="196.01" width="8.1" height="5.19" fill="#8e8e8e" stroke="#000" stroke-width="0.75"/>
<path d="M333.45 196.01V194.54M331.55 194.54H335.35" stroke="#000" stroke-width="0.9" fill="none"/>
<text transform="translate(329.85,209) rotate(-45)" text-anchor="end" font-size="6.2" font-weight="bold">mLN</text>
<rect x="343.2" y="196.38" width="8.1" height="4.82" fill="#fff" stroke="#000" stroke-width="0.75"/>
<path d="M347.25 196.38V194.9M345.35 194.9H349.15" stroke="#000" stroke-width="0.9" fill="none"/>
<rect x="352.8" y="195.46" width="8.1" height="5.74" fill="#8e8e8e" stroke="#000" stroke-width="0.75"/>
<path d="M356.85 195.46V193.8M354.95 193.8H358.75" stroke="#000" stroke-width="0.9" fill="none"/>
<text transform="translate(353.25,209) rotate(-45)" text-anchor="end" font-size="6.2" font-weight="bold">pLN</text>
<rect x="366.6" y="170.54" width="8.1" height="30.66" fill="#fff" stroke="#000" stroke-width="0.75"/>
<path d="M370.65 170.54V165.92M368.75 165.92H372.55" stroke="#000" stroke-width="0.9" fill="none"/>
<rect x="376.2" y="197.3" width="8.1" height="3.9" fill="#8e8e8e" stroke="#000" stroke-width="0.75"/>
<path d="M380.25 197.3V196.01M378.35 196.01H382.15" stroke="#000" stroke-width="0.9" fill="none"/>
<text transform="translate(376.65,209) rotate(-45)" text-anchor="end" font-size="6.2" font-weight="bold">Liver</text>
<circle cx="300.68" cy="164.08" r="1.35"/>
<circle cx="300.68" cy="177" r="1.35"/>
<circle cx="300.31" cy="181.98" r="1.35"/>
<circle cx="299.38" cy="186.78" r="1.35"/>
<circle cx="301.6" cy="188.07" r="1.35"/>
<circle cx="299.01" cy="192.69" r="1.35"/>
<circle cx="301.23" cy="193.61" r="1.35"/>
<circle cx="300.68" cy="198.23" r="1.35"/>
<rect x="306.74" y="195.43" width="1.9" height="1.9" fill="#555" stroke="#000" stroke-width="0.75"/>
<rect x="309.51" y="195.8" width="1.9" height="1.9" fill="#555" stroke="#000" stroke-width="0.75"/>
<rect x="312.28" y="195.06" width="1.9" height="1.9" fill="#555" stroke="#000" stroke-width="0.75"/>
<rect x="306.19" y="197.65" width="1.9" height="1.9" fill="#555" stroke="#000" stroke-width="0.75"/>
<rect x="308.59" y="198.2" width="1.9" height="1.9" fill="#555" stroke="#000" stroke-width="0.75"/>
<rect x="310.99" y="198.2" width="1.9" height="1.9" fill="#555" stroke="#000" stroke-width="0.75"/>
<rect x="307.66" y="199.49" width="1.9" height="1.9" fill="#555" stroke="#000" stroke-width="0.75"/>
<rect x="310.43" y="199.49" width="1.9" height="1.9" fill="#555" stroke="#000" stroke-width="0.75"/>
<circle cx="324.31" cy="162.23" r="1.35"/>
<circle cx="324.31" cy="177" r="1.35"/>
<circle cx="324.31" cy="185.3" r="1.35"/>
<circle cx="325.6" cy="192.69" r="1.35"/>
<circle cx="323.38" cy="194.54" r="1.35"/>
<circle cx="324.86" cy="196.38" r="1.35"/>
<rect x="332.59" y="191.74" width="1.9" height="1.9" fill="#555" stroke="#000" stroke-width="0.75"/>
<rect x="334.99" y="192.66" width="1.9" height="1.9" fill="#555" stroke="#000" stroke-width="0.75"/>
<rect x="330.74" y="194.51" width="1.9" height="1.9" fill="#555" stroke="#000" stroke-width="0.75"/>
<rect x="333.14" y="195.06" width="1.9" height="1.9" fill="#555" stroke="#000" stroke-width="0.75"/>
<rect x="335.35" y="195.06" width="1.9" height="1.9" fill="#555" stroke="#000" stroke-width="0.75"/>
<rect x="330.19" y="197.28" width="1.9" height="1.9" fill="#555" stroke="#000" stroke-width="0.75"/>
<rect x="332.59" y="197.65" width="1.9" height="1.9" fill="#555" stroke="#000" stroke-width="0.75"/>
<rect x="334.99" y="197.28" width="1.9" height="1.9" fill="#555" stroke="#000" stroke-width="0.75"/>
<circle cx="348.3" cy="191.21" r="1.35"/>
<circle cx="344.61" cy="193.61" r="1.35"/>
<circle cx="346.46" cy="195.46" r="1.35"/>
<circle cx="349.23" cy="194.9" r="1.35"/>
<circle cx="344.24" cy="197.3" r="1.35"/>
<circle cx="346.83" cy="197.86" r="1.35"/>
<circle cx="349.23" cy="197.3" r="1.35"/>
<circle cx="345.54" cy="199.7" r="1.35"/>
<rect x="356.03" y="188.42" width="1.9" height="1.9" fill="#555" stroke="#000" stroke-width="0.75"/>
<rect x="353.82" y="192.66" width="1.9" height="1.9" fill="#555" stroke="#000" stroke-width="0.75"/>
<rect x="356.58" y="193.59" width="1.9" height="1.9" fill="#555" stroke="#000" stroke-width="0.75"/>
<rect x="352.89" y="195.06" width="1.9" height="1.9" fill="#555" stroke="#000" stroke-width="0.75"/>
<rect x="355.11" y="195.43" width="1.9" height="1.9" fill="#555" stroke="#000" stroke-width="0.75"/>
<rect x="357.51" y="195.06" width="1.9" height="1.9" fill="#555" stroke="#000" stroke-width="0.75"/>
<rect x="353.82" y="197.65" width="1.9" height="1.9" fill="#555" stroke="#000" stroke-width="0.75"/>
<rect x="356.58" y="197.65" width="1.9" height="1.9" fill="#555" stroke="#000" stroke-width="0.75"/>
<circle cx="370.46" cy="146.54" r="1.35"/>
<circle cx="370.46" cy="159.09" r="1.35"/>
<circle cx="368.61" cy="164.63" r="1.35"/>
<circle cx="372.3" cy="164.63" r="1.35"/>
<circle cx="370.83" cy="177.55" r="1.35"/>
<circle cx="370.83" cy="185.3" r="1.35"/>
<circle cx="370.46" cy="197.3" r="1.35"/>
<rect x="379.29" y="193.22" width="1.9" height="1.9" fill="#555" stroke="#000" stroke-width="0.75"/>
<rect x="376.89" y="195.43" width="1.9" height="1.9" fill="#555" stroke="#000" stroke-width="0.75"/>
<rect x="379.29" y="195.8" width="1.9" height="1.9" fill="#555" stroke="#000" stroke-width="0.75"/>
<rect x="381.51" y="195.43" width="1.9" height="1.9" fill="#555" stroke="#000" stroke-width="0.75"/>
<rect x="377.44" y="198.2" width="1.9" height="1.9" fill="#555" stroke="#000" stroke-width="0.75"/>
<rect x="380.03" y="198.2" width="1.9" height="1.9" fill="#555" stroke="#000" stroke-width="0.75"/>
<path d="M293.7 139.05V201.2H387" stroke="#000" stroke-width="1" fill="none"/>
<path d="M305.05 201.2v1.6" stroke="#000" stroke-width="0.9"/>
<path d="M328.65 201.2v1.6" stroke="#000" stroke-width="0.9"/>
<path d="M352.05 201.2v1.6" stroke="#000" stroke-width="0.9"/>
<path d="M375.45 201.2v1.6" stroke="#000" stroke-width="0.9"/>
<path d="M291.9 201.2H293.7" stroke="#000" stroke-width="0.9"/>
<text x="290.9" y="203.29" text-anchor="end" font-size="5.8" font-weight="bold">0</text>
<path d="M291.9 188.9H293.7" stroke="#000" stroke-width="0.9"/>
<text x="290.9" y="190.99" text-anchor="end" font-size="5.8" font-weight="bold">5</text>
<path d="M291.9 176.5H293.7" stroke="#000" stroke-width="0.9"/>
<text x="290.9" y="178.59" text-anchor="end" font-size="5.8" font-weight="bold">10</text>
<path d="M291.9 164.2H293.7" stroke="#000" stroke-width="0.9"/>
<text x="290.9" y="166.29" text-anchor="end" font-size="5.8" font-weight="bold">15</text>
<path d="M291.9 151.8H293.7" stroke="#000" stroke-width="0.9"/>
<text x="290.9" y="153.89" text-anchor="end" font-size="5.8" font-weight="bold">20</text>
<path d="M291.9 139.5H293.7" stroke="#000" stroke-width="0.9"/>
<text x="290.9" y="141.59" text-anchor="end" font-size="5.8" font-weight="bold">25</text>
<text transform="translate(279.8,169.25) rotate(-90)" text-anchor="middle" font-size="6.0" font-weight="bold">% eYFP<tspan dy="-2.28" font-size="3.72">+</tspan><tspan dy="2.28"> in CD8</tspan><tspan dy="-2.28" font-size="3.72">+</tspan><tspan dy="2.28"> T cells</tspan></text>
<path d="M301.23 155.4H309.54" stroke="#000" stroke-width="0.9"/>
<text x="305.38" y="155.45" text-anchor="middle" font-size="6.4" letter-spacing="0.5" font-weight="bold" style="stroke-width:.22px">*</text>
<path d="M371.01 140.26H380.24" stroke="#000" stroke-width="0.9"/>
<text x="375.63" y="140.31" text-anchor="middle" font-size="6.4" letter-spacing="0.5" font-weight="bold" style="stroke-width:.22px">*</text>
</g>
<g>
<rect x="429.1" y="181.61" width="8.1" height="18.89" fill="#fff" stroke="#000" stroke-width="0.75"/>
<path d="M433.15 181.61V177.92M431.25 177.92H435.05" stroke="#000" stroke-width="0.9" fill="none"/>
<rect x="438.7" y="180.69" width="8.1" height="19.81" fill="#8e8e8e" stroke="#000" stroke-width="0.75"/>
<path d="M442.75 180.69V177M440.85 177H444.65" stroke="#000" stroke-width="0.9" fill="none"/>
<text transform="translate(439.15,208.3) rotate(-45)" text-anchor="end" font-size="6.2" font-weight="bold">Spleen</text>
<rect x="452.5" y="196.01" width="8.1" height="4.49" fill="#fff" stroke="#000" stroke-width="0.75"/>
<path d="M456.55 196.01V192.69M454.65 192.69H458.45" stroke="#000" stroke-width="0.9" fill="none"/>
<rect x="462.1" y="197.3" width="8.1" height="3.2" fill="#8e8e8e" stroke="#000" stroke-width="0.75"/>
<path d="M466.15 197.3V196.01M464.25 196.01H468.05" stroke="#000" stroke-width="0.9" fill="none"/>
<text transform="translate(462.55,208.3) rotate(-45)" text-anchor="end" font-size="6.2" font-weight="bold">mLN</text>
<rect x="475.6" y="200.07" width="8.1" height="0.43" fill="#fff" stroke="#000" stroke-width="0.75"/>
<path d="M479.65 200.07V199.52M477.75 199.52H481.55" stroke="#000" stroke-width="0.9" fill="none"/>
<rect x="485.2" y="197.86" width="8.1" height="2.64" fill="#8e8e8e" stroke="#000" stroke-width="0.75"/>
<path d="M489.25 197.86V196.38M487.35 196.38H491.15" stroke="#000" stroke-width="0.9" fill="none"/>
<text transform="translate(485.65,208.3) rotate(-45)" text-anchor="end" font-size="6.2" font-weight="bold">pLN</text>
<rect x="498.8" y="187.15" width="8.1" height="13.35" fill="#fff" stroke="#000" stroke-width="0.75"/>
<path d="M502.85 187.15V183.83M500.95 183.83H504.75" stroke="#000" stroke-width="0.9" fill="none"/>
<rect x="508.4" y="197.3" width="8.1" height="3.2" fill="#8e8e8e" stroke="#000" stroke-width="0.75"/>
<path d="M512.45 197.3V196.01M510.55 196.01H514.35" stroke="#000" stroke-width="0.9" fill="none"/>
<text transform="translate(508.85,208.3) rotate(-45)" text-anchor="end" font-size="6.2" font-weight="bold">Liver</text>
<circle cx="431.38" cy="169.61" r="1.35"/>
<circle cx="434.15" cy="167.77" r="1.35"/>
<circle cx="432.68" cy="177" r="1.35"/>
<circle cx="431.75" cy="180.69" r="1.35"/>
<circle cx="434.15" cy="179.77" r="1.35"/>
<circle cx="431.38" cy="188.07" r="1.35"/>
<circle cx="433.6" cy="189.37" r="1.35"/>
<circle cx="432.68" cy="197.3" r="1.35"/>
<rect x="441.51" y="154.45" width="1.9" height="1.9" fill="#555" stroke="#000" stroke-width="0.75"/>
<rect x="441.51" y="163.13" width="1.9" height="1.9" fill="#555" stroke="#000" stroke-width="0.75"/>
<rect x="440.59" y="174.2" width="1.9" height="1.9" fill="#555" stroke="#000" stroke-width="0.75"/>
<rect x="442.99" y="175.12" width="1.9" height="1.9" fill="#555" stroke="#000" stroke-width="0.75"/>
<rect x="441.51" y="177.89" width="1.9" height="1.9" fill="#555" stroke="#000" stroke-width="0.75"/>
<rect x="441.51" y="194.51" width="1.9" height="1.9" fill="#555" stroke="#000" stroke-width="0.75"/>
<rect x="442.99" y="195.43" width="1.9" height="1.9" fill="#555" stroke="#000" stroke-width="0.75"/>
<rect x="440.59" y="198.2" width="1.9" height="1.9" fill="#555" stroke="#000" stroke-width="0.75"/>
<circle cx="456.31" cy="187.15" r="1.35"/>
<circle cx="456.31" cy="191.77" r="1.35"/>
<circle cx="455.01" cy="197.3" r="1.35"/>
<circle cx="457.6" cy="197.3" r="1.35"/>
<circle cx="456.31" cy="199.15" r="1.35"/>
<rect x="463.29" y="192.66" width="1.9" height="1.9" fill="#555" stroke="#000" stroke-width="0.75"/>
<rect x="465.51" y="194.51" width="1.9" height="1.9" fill="#555" stroke="#000" stroke-width="0.75"/>
<rect x="462.19" y="196.35" width="1.9" height="1.9" fill="#555" stroke="#000" stroke-width="0.75"/>
<rect x="464.59" y="196.91" width="1.9" height="1.9" fill="#555" stroke="#000" stroke-width="0.75"/>
<rect x="466.99" y="196.35" width="1.9" height="1.9" fill="#555" stroke="#000" stroke-width="0.75"/>
<rect x="463.66" y="198.75" width="1.9" height="1.9" fill="#555" stroke="#000" stroke-width="0.75"/>
<rect x="466.06" y="198.75" width="1.9" height="1.9" fill="#555" stroke="#000" stroke-width="0.75"/>
<circle cx="479.38" cy="198.6" r="1.35"/>
<circle cx="477.54" cy="200.07" r="1.35"/>
<circle cx="479.38" cy="200.26" r="1.35"/>
<circle cx="481.23" cy="200.07" r="1.35"/>
<rect x="488.03" y="192.66" width="1.9" height="1.9" fill="#555" stroke="#000" stroke-width="0.75"/>
<rect x="485.82" y="195.43" width="1.9" height="1.9" fill="#555" stroke="#000" stroke-width="0.75"/>
<rect x="488.58" y="195.8" width="1.9" height="1.9" fill="#555" stroke="#000" stroke-width="0.75"/>
<rect x="484.89" y="197.65" width="1.9" height="1.9" fill="#555" stroke="#000" stroke-width="0.75"/>
<rect x="487.29" y="197.83" width="1.9" height="1.9" fill="#555" stroke="#000" stroke-width="0.75"/>
<rect x="489.88" y="197.65" width="1.9" height="1.9" fill="#555" stroke="#000" stroke-width="0.75"/>
<rect x="486.18" y="199.49" width="1.9" height="1.9" fill="#555" stroke="#000" stroke-width="0.75"/>
<rect x="488.77" y="199.49" width="1.9" height="1.9" fill="#555" stroke="#000" stroke-width="0.75"/>
<circle cx="504.3" cy="174.23" r="1.35"/>
<circle cx="501.53" cy="176.44" r="1.35"/>
<circle cx="501.53" cy="181.98" r="1.35"/>
<circle cx="503.75" cy="183.09" r="1.35"/>
<circle cx="502.83" cy="189.92" r="1.35"/>
<circle cx="502.83" cy="195.46" r="1.35"/>
<circle cx="501.9" cy="198.6" r="1.35"/>
<circle cx="504.3" cy="198.23" r="1.35"/>
<rect x="511.66" y="191.74" width="1.9" height="1.9" fill="#555" stroke="#000" stroke-width="0.75"/>
<rect x="509.81" y="194.51" width="1.9" height="1.9" fill="#555" stroke="#000" stroke-width="0.75"/>
<rect x="512.58" y="194.51" width="1.9" height="1.9" fill="#555" stroke="#000" stroke-width="0.75"/>
<rect x="508.89" y="196.35" width="1.9" height="1.9" fill="#555" stroke="#000" stroke-width="0.75"/>
<rect x="511.29" y="196.91" width="1.9" height="1.9" fill="#555" stroke="#000" stroke-width="0.75"/>
<rect x="513.88" y="196.35" width="1.9" height="1.9" fill="#555" stroke="#000" stroke-width="0.75"/>
<rect x="510.18" y="198.75" width="1.9" height="1.9" fill="#555" stroke="#000" stroke-width="0.75"/>
<rect x="512.77" y="198.75" width="1.9" height="1.9" fill="#555" stroke="#000" stroke-width="0.75"/>
<path d="M426.4 138.55V200.5H520" stroke="#000" stroke-width="1" fill="none"/>
<path d="M437.95 200.5v1.6" stroke="#000" stroke-width="0.9"/>
<path d="M461.35 200.5v1.6" stroke="#000" stroke-width="0.9"/>
<path d="M484.45 200.5v1.6" stroke="#000" stroke-width="0.9"/>
<path d="M507.65 200.5v1.6" stroke="#000" stroke-width="0.9"/>
<path d="M424.6 200.5H426.4" stroke="#000" stroke-width="0.9"/>
<text x="423.6" y="202.66" text-anchor="end" font-size="6.0" font-weight="bold">0.0</text>
<path d="M424.6 185.1H426.4" stroke="#000" stroke-width="0.9"/>
<text x="423.6" y="187.26" text-anchor="end" font-size="6.0" font-weight="bold">0.1</text>
<path d="M424.6 169.7H426.4" stroke="#000" stroke-width="0.9"/>
<text x="423.6" y="171.86" text-anchor="end" font-size="6.0" font-weight="bold">0.2</text>
<path d="M424.6 154.3H426.4" stroke="#000" stroke-width="0.9"/>
<text x="423.6" y="156.46" text-anchor="end" font-size="6.0" font-weight="bold">0.3</text>
<path d="M424.6 139H426.4" stroke="#000" stroke-width="0.9"/>
<text x="423.6" y="141.16" text-anchor="end" font-size="6.0" font-weight="bold">0.4</text>
<text transform="translate(412.6,168.65) rotate(-90)" text-anchor="middle" font-size="6.0" font-weight="bold">CD8<tspan dy="-2.28" font-size="3.72">+</tspan><tspan dy="2.28">YFP</tspan><tspan dy="-2.28" font-size="3.72">+</tspan><tspan dy="2.28"> cells x 10</tspan><tspan dy="-2.28" font-size="3.72">6</tspan></text>
</g>
<g>
<rect x="300.9" y="304" width="8.1" height="12" fill="#fff" stroke="#000" stroke-width="0.75"/>
<path d="M304.95 304V302.52M303.05 302.52H306.85" stroke="#000" stroke-width="0.9" fill="none"/>
<rect x="310.5" y="303.07" width="8.1" height="12.93" fill="#8e8e8e" stroke="#000" stroke-width="0.75"/>
<path d="M314.55 303.07V301.6M312.65 301.6H316.45" stroke="#000" stroke-width="0.9" fill="none"/>
<text transform="translate(310.95,323.8) rotate(-45)" text-anchor="end" font-size="6.2" font-weight="bold">Spleen</text>
<rect x="324.3" y="277.78" width="8.1" height="38.22" fill="#fff" stroke="#000" stroke-width="0.75"/>
<path d="M328.35 277.78V275.38M326.45 275.38H330.25" stroke="#000" stroke-width="0.9" fill="none"/>
<rect x="333.9" y="295.14" width="8.1" height="20.86" fill="#8e8e8e" stroke="#000" stroke-width="0.75"/>
<path d="M337.95 295.14V292.92M336.05 292.92H339.85" stroke="#000" stroke-width="0.9" fill="none"/>
<text transform="translate(334.35,323.8) rotate(-45)" text-anchor="end" font-size="6.2" font-weight="bold">mLN</text>
<rect x="347.5" y="285.17" width="8.1" height="30.83" fill="#fff" stroke="#000" stroke-width="0.75"/>
<path d="M351.55 285.17V281.84M349.65 281.84H353.45" stroke="#000" stroke-width="0.9" fill="none"/>
<rect x="357.1" y="298.09" width="8.1" height="17.91" fill="#8e8e8e" stroke="#000" stroke-width="0.75"/>
<path d="M361.15 298.09V295.14M359.25 295.14H363.05" stroke="#000" stroke-width="0.9" fill="none"/>
<text transform="translate(357.55,323.8) rotate(-45)" text-anchor="end" font-size="6.2" font-weight="bold">pLN</text>
<rect x="370.6" y="283.32" width="8.1" height="32.68" fill="#fff" stroke="#000" stroke-width="0.75"/>
<path d="M374.65 283.32V280.37M372.75 280.37H376.55" stroke="#000" stroke-width="0.9" fill="none"/>
<rect x="380.2" y="296.98" width="8.1" height="19.02" fill="#8e8e8e" stroke="#000" stroke-width="0.75"/>
<path d="M384.25 296.98V295.51M382.35 295.51H386.15" stroke="#000" stroke-width="0.9" fill="none"/>
<text transform="translate(380.65,323.8) rotate(-45)" text-anchor="end" font-size="6.2" font-weight="bold">Liver</text>
<circle cx="304.75" cy="297.54" r="1.35"/>
<circle cx="303.46" cy="301.23" r="1.35"/>
<circle cx="306.23" cy="300.67" r="1.35"/>
<circle cx="302.17" cy="303.63" r="1.35"/>
<circle cx="304.75" cy="304.37" r="1.35"/>
<circle cx="307.15" cy="303.63" r="1.35"/>
<circle cx="303.46" cy="306.77" r="1.35"/>
<circle cx="305.86" cy="307.32" r="1.35"/>
<circle cx="304.75" cy="309.17" r="1.35"/>
<rect x="313.59" y="296.59" width="1.9" height="1.9" fill="#909090" stroke="#000" stroke-width="0.75"/>
<rect x="311.74" y="302.12" width="1.9" height="1.9" fill="#909090" stroke="#000" stroke-width="0.75"/>
<rect x="314.51" y="302.68" width="1.9" height="1.9" fill="#909090" stroke="#000" stroke-width="0.75"/>
<rect x="316.73" y="302.12" width="1.9" height="1.9" fill="#909090" stroke="#000" stroke-width="0.75"/>
<rect x="311.19" y="304.52" width="1.9" height="1.9" fill="#909090" stroke="#000" stroke-width="0.75"/>
<rect x="313.59" y="304.89" width="1.9" height="1.9" fill="#909090" stroke="#000" stroke-width="0.75"/>
<rect x="315.99" y="304.52" width="1.9" height="1.9" fill="#909090" stroke="#000" stroke-width="0.75"/>
<rect x="312.3" y="307.66" width="1.9" height="1.9" fill="#909090" stroke="#000" stroke-width="0.75"/>
<rect x="314.88" y="307.66" width="1.9" height="1.9" fill="#909090" stroke="#000" stroke-width="0.75"/>
<circle cx="326.91" cy="268.55" r="1.35"/>
<circle cx="329.86" cy="269.85" r="1.35"/>
<circle cx="329.31" cy="274.46" r="1.35"/>
<circle cx="326.54" cy="277.23" r="1.35"/>
<circle cx="328.75" cy="277.78" r="1.35"/>
<circle cx="331.15" cy="277.23" r="1.35"/>
<circle cx="327.46" cy="280" r="1.35"/>
<circle cx="330.23" cy="280" r="1.35"/>
<circle cx="328.75" cy="284.61" r="1.35"/>
<circle cx="326.54" cy="286.46" r="1.35"/>
<rect x="338.14" y="286.8" width="1.9" height="1.9" fill="#909090" stroke="#000" stroke-width="0.75"/>
<rect x="335.19" y="290.49" width="1.9" height="1.9" fill="#909090" stroke="#000" stroke-width="0.75"/>
<rect x="339.43" y="291.05" width="1.9" height="1.9" fill="#909090" stroke="#000" stroke-width="0.75"/>
<rect x="334.45" y="293.82" width="1.9" height="1.9" fill="#909090" stroke="#000" stroke-width="0.75"/>
<rect x="337.03" y="294.19" width="1.9" height="1.9" fill="#909090" stroke="#000" stroke-width="0.75"/>
<rect x="339.8" y="293.82" width="1.9" height="1.9" fill="#909090" stroke="#000" stroke-width="0.75"/>
<rect x="335.74" y="297.14" width="1.9" height="1.9" fill="#909090" stroke="#000" stroke-width="0.75"/>
<rect x="338.51" y="297.14" width="1.9" height="1.9" fill="#909090" stroke="#000" stroke-width="0.75"/>
<rect x="337.03" y="301.57" width="1.9" height="1.9" fill="#909090" stroke="#000" stroke-width="0.75"/>
<circle cx="350.54" cy="274.46" r="1.35"/>
<circle cx="353.3" cy="274.09" r="1.35"/>
<circle cx="349.24" cy="278.52" r="1.35"/>
<circle cx="351.83" cy="279.63" r="1.35"/>
<circle cx="351.83" cy="288.31" r="1.35"/>
<circle cx="351.83" cy="294.77" r="1.35"/>
<circle cx="353.3" cy="298.83" r="1.35"/>
<circle cx="350.54" cy="301.23" r="1.35"/>
<rect x="360.66" y="281.26" width="1.9" height="1.9" fill="#909090" stroke="#000" stroke-width="0.75"/>
<rect x="358.82" y="294.19" width="1.9" height="1.9" fill="#909090" stroke="#000" stroke-width="0.75"/>
<rect x="362.14" y="293.45" width="1.9" height="1.9" fill="#909090" stroke="#000" stroke-width="0.75"/>
<rect x="357.89" y="297.14" width="1.9" height="1.9" fill="#909090" stroke="#000" stroke-width="0.75"/>
<rect x="360.29" y="297.51" width="1.9" height="1.9" fill="#909090" stroke="#000" stroke-width="0.75"/>
<rect x="362.88" y="297.14" width="1.9" height="1.9" fill="#909090" stroke="#000" stroke-width="0.75"/>
<rect x="359.74" y="303.42" width="1.9" height="1.9" fill="#909090" stroke="#000" stroke-width="0.75"/>
<rect x="360.66" y="308.95" width="1.9" height="1.9" fill="#909090" stroke="#000" stroke-width="0.75"/>
<circle cx="373.61" cy="269.85" r="1.35"/>
<circle cx="375.46" cy="272.98" r="1.35"/>
<circle cx="377.3" cy="274.46" r="1.35"/>
<circle cx="372.69" cy="288.31" r="1.35"/>
<circle cx="374.9" cy="288.86" r="1.35"/>
<circle cx="377.3" cy="288.31" r="1.35"/>
<circle cx="373.06" cy="293.84" r="1.35"/>
<circle cx="375.46" cy="293.84" r="1.35"/>
<circle cx="377.67" cy="292.92" r="1.35"/>
<rect x="383.74" y="291.6" width="1.9" height="1.9" fill="#909090" stroke="#000" stroke-width="0.75"/>
<rect x="381.89" y="295.29" width="1.9" height="1.9" fill="#909090" stroke="#000" stroke-width="0.75"/>
<rect x="384.29" y="295.66" width="1.9" height="1.9" fill="#909090" stroke="#000" stroke-width="0.75"/>
<rect x="386.51" y="295.29" width="1.9" height="1.9" fill="#909090" stroke="#000" stroke-width="0.75"/>
<rect x="382.44" y="298.43" width="1.9" height="1.9" fill="#909090" stroke="#000" stroke-width="0.75"/>
<rect x="385.03" y="298.43" width="1.9" height="1.9" fill="#909090" stroke="#000" stroke-width="0.75"/>
<rect x="383.74" y="301.2" width="1.9" height="1.9" fill="#909090" stroke="#000" stroke-width="0.75"/>
<path d="M297.9 253.25V316H393" stroke="#000" stroke-width="1" fill="none"/>
<path d="M309.75 316v1.6" stroke="#000" stroke-width="0.9"/>
<path d="M333.15 316v1.6" stroke="#000" stroke-width="0.9"/>
<path d="M356.35 316v1.6" stroke="#000" stroke-width="0.9"/>
<path d="M379.45 316v1.6" stroke="#000" stroke-width="0.9"/>
<path d="M296.1 316H297.9" stroke="#000" stroke-width="0.9"/>
<text x="295.1" y="318.05" text-anchor="end" font-size="5.7" font-weight="bold">0</text>
<path d="M296.1 303.6H297.9" stroke="#000" stroke-width="0.9"/>
<text x="295.1" y="305.65" text-anchor="end" font-size="5.7" font-weight="bold">2</text>
<path d="M296.1 291.1H297.9" stroke="#000" stroke-width="0.9"/>
<text x="295.1" y="293.15" text-anchor="end" font-size="5.7" font-weight="bold">4</text>
<path d="M296.1 278.7H297.9" stroke="#000" stroke-width="0.9"/>
<text x="295.1" y="280.75" text-anchor="end" font-size="5.7" font-weight="bold">6</text>
<path d="M296.1 266.2H297.9" stroke="#000" stroke-width="0.9"/>
<text x="295.1" y="268.25" text-anchor="end" font-size="5.7" font-weight="bold">8</text>
<path d="M296.1 253.7H297.9" stroke="#000" stroke-width="0.9"/>
<text x="295.1" y="255.75" text-anchor="end" font-size="5.7" font-weight="bold">10</text>
<text transform="translate(283.4,283.75) rotate(-90)" text-anchor="middle" font-size="6.0" font-weight="bold">% eYFP<tspan dy="-2.28" font-size="3.72">+</tspan><tspan dy="2.28"> in CD8</tspan><tspan dy="-2.28" font-size="3.72">+</tspan><tspan dy="2.28"> T cells</tspan></text>
<path d="M328.01 259.69H338.54" stroke="#000" stroke-width="0.9"/>
<text x="333.27" y="258.94" text-anchor="middle" font-size="6.4" letter-spacing="0.5" font-weight="bold" style="stroke-width:.22px">***</text>
<path d="M351.46 268.92H361.98" stroke="#000" stroke-width="0.9"/>
<text x="356.72" y="268.17" text-anchor="middle" font-size="6.4" letter-spacing="0.5" font-weight="bold" style="stroke-width:.22px">**</text>
<path d="M374.53 266.71H385.24" stroke="#000" stroke-width="0.9"/>
<text x="379.89" y="265.95" text-anchor="middle" font-size="6.4" letter-spacing="0.5" font-weight="bold" style="stroke-width:.22px">***</text>
</g>
<g>
<rect x="428.2" y="294.4" width="8.1" height="21.6" fill="#fff" stroke="#000" stroke-width="0.75"/>
<path d="M432.25 294.4V291.44M430.35 291.44H434.15" stroke="#000" stroke-width="0.9" fill="none"/>
<rect x="437.8" y="304.37" width="8.1" height="11.63" fill="#8e8e8e" stroke="#000" stroke-width="0.75"/>
<path d="M441.85 304.37V303.26M439.95 303.26H443.75" stroke="#000" stroke-width="0.9" fill="none"/>
<text transform="translate(438.25,323.8) rotate(-45)" text-anchor="end" font-size="6.2" font-weight="bold">Spleen</text>
<rect x="451.4" y="298.46" width="8.1" height="17.54" fill="#fff" stroke="#000" stroke-width="0.75"/>
<path d="M455.45 298.46V294.77M453.55 294.77H457.35" stroke="#000" stroke-width="0.9" fill="none"/>
<rect x="461" y="301.23" width="8.1" height="14.77" fill="#8e8e8e" stroke="#000" stroke-width="0.75"/>
<path d="M465.05 301.23V298.09M463.15 298.09H466.95" stroke="#000" stroke-width="0.9" fill="none"/>
<text transform="translate(461.45,323.8) rotate(-45)" text-anchor="end" font-size="6.2" font-weight="bold">mLN</text>
<rect x="474.7" y="311.38" width="8.1" height="4.62" fill="#fff" stroke="#000" stroke-width="0.75"/>
<path d="M478.75 311.38V310.27M476.85 310.27H480.65" stroke="#000" stroke-width="0.9" fill="none"/>
<rect x="484.3" y="312.86" width="8.1" height="3.14" fill="#8e8e8e" stroke="#000" stroke-width="0.75"/>
<path d="M488.35 312.86V312.12M486.45 312.12H490.25" stroke="#000" stroke-width="0.9" fill="none"/>
<text transform="translate(484.75,323.8) rotate(-45)" text-anchor="end" font-size="6.2" font-weight="bold">pLN</text>
<rect x="498.2" y="291.07" width="8.1" height="24.93" fill="#fff" stroke="#000" stroke-width="0.75"/>
<path d="M502.25 291.07V288.31M500.35 288.31H504.15" stroke="#000" stroke-width="0.9" fill="none"/>
<rect x="507.8" y="284.61" width="8.1" height="31.39" fill="#8e8e8e" stroke="#000" stroke-width="0.75"/>
<path d="M511.85 284.61V280.92M509.95 280.92H513.75" stroke="#000" stroke-width="0.9" fill="none"/>
<text transform="translate(508.25,323.8) rotate(-45)" text-anchor="end" font-size="6.2" font-weight="bold">Liver</text>
<circle cx="432.31" cy="279.63" r="1.35"/>
<circle cx="432.31" cy="287.01" r="1.35"/>
<circle cx="431.01" cy="291.44" r="1.35"/>
<circle cx="433.6" cy="292" r="1.35"/>
<circle cx="432.31" cy="297.54" r="1.35"/>
<circle cx="431.38" cy="300.3" r="1.35"/>
<circle cx="433.6" cy="300.3" r="1.35"/>
<circle cx="432.31" cy="306.21" r="1.35"/>
<rect x="439.66" y="302.12" width="1.9" height="1.9" fill="#909090" stroke="#000" stroke-width="0.75"/>
<rect x="442.43" y="302.12" width="1.9" height="1.9" fill="#909090" stroke="#000" stroke-width="0.75"/>
<rect x="438.74" y="303.97" width="1.9" height="1.9" fill="#909090" stroke="#000" stroke-width="0.75"/>
<rect x="440.96" y="304.52" width="1.9" height="1.9" fill="#909090" stroke="#000" stroke-width="0.75"/>
<rect x="443.36" y="303.97" width="1.9" height="1.9" fill="#909090" stroke="#000" stroke-width="0.75"/>
<rect x="440.03" y="306.74" width="1.9" height="1.9" fill="#909090" stroke="#000" stroke-width="0.75"/>
<rect x="442.43" y="306.74" width="1.9" height="1.9" fill="#909090" stroke="#000" stroke-width="0.75"/>
<rect x="439.66" y="309.51" width="1.9" height="1.9" fill="#909090" stroke="#000" stroke-width="0.75"/>
<circle cx="455.75" cy="274.46" r="1.35"/>
<circle cx="455.75" cy="285.17" r="1.35"/>
<circle cx="455.75" cy="295.14" r="1.35"/>
<circle cx="454.46" cy="299.94" r="1.35"/>
<circle cx="457.23" cy="299.94" r="1.35"/>
<circle cx="456.31" cy="304.37" r="1.35"/>
<circle cx="455.75" cy="309.54" r="1.35"/>
<circle cx="454.46" cy="311.75" r="1.35"/>
<rect x="464.59" y="287.91" width="1.9" height="1.9" fill="#909090" stroke="#000" stroke-width="0.75"/>
<rect x="465.88" y="294.74" width="1.9" height="1.9" fill="#909090" stroke="#000" stroke-width="0.75"/>
<rect x="463.66" y="298.43" width="1.9" height="1.9" fill="#909090" stroke="#000" stroke-width="0.75"/>
<rect x="462.19" y="301.2" width="1.9" height="1.9" fill="#909090" stroke="#000" stroke-width="0.75"/>
<rect x="465.14" y="301.57" width="1.9" height="1.9" fill="#909090" stroke="#000" stroke-width="0.75"/>
<rect x="462.74" y="304.52" width="1.9" height="1.9" fill="#909090" stroke="#000" stroke-width="0.75"/>
<rect x="465.88" y="304.52" width="1.9" height="1.9" fill="#909090" stroke="#000" stroke-width="0.75"/>
<rect x="464.03" y="306.74" width="1.9" height="1.9" fill="#909090" stroke="#000" stroke-width="0.75"/>
<circle cx="476.61" cy="309.54" r="1.35"/>
<circle cx="479.38" cy="310.46" r="1.35"/>
<circle cx="481.6" cy="309.9" r="1.35"/>
<circle cx="475.69" cy="311.75" r="1.35"/>
<circle cx="478.09" cy="312.3" r="1.35"/>
<circle cx="480.49" cy="312.3" r="1.35"/>
<circle cx="477.17" cy="314.15" r="1.35"/>
<circle cx="479.75" cy="314.15" r="1.35"/>
<rect x="487.29" y="310.06" width="1.9" height="1.9" fill="#909090" stroke="#000" stroke-width="0.75"/>
<rect x="485.45" y="311.91" width="1.9" height="1.9" fill="#909090" stroke="#000" stroke-width="0.75"/>
<rect x="488.03" y="311.91" width="1.9" height="1.9" fill="#909090" stroke="#000" stroke-width="0.75"/>
<rect x="490.06" y="312.28" width="1.9" height="1.9" fill="#909090" stroke="#000" stroke-width="0.75"/>
<rect x="486.18" y="313.75" width="1.9" height="1.9" fill="#909090" stroke="#000" stroke-width="0.75"/>
<rect x="488.77" y="313.75" width="1.9" height="1.9" fill="#909090" stroke="#000" stroke-width="0.75"/>
<circle cx="502.46" cy="276.31" r="1.35"/>
<circle cx="502.46" cy="282.21" r="1.35"/>
<circle cx="501.16" cy="285.91" r="1.35"/>
<circle cx="503.75" cy="285.17" r="1.35"/>
<circle cx="502.46" cy="289.23" r="1.35"/>
<circle cx="499.69" cy="298.83" r="1.35"/>
<circle cx="501.9" cy="300.3" r="1.35"/>
<circle cx="504.67" cy="298.83" r="1.35"/>
<circle cx="503.38" cy="301.23" r="1.35"/>
<rect x="509.81" y="264.65" width="1.9" height="1.9" fill="#909090" stroke="#000" stroke-width="0.75"/>
<rect x="512.58" y="265.76" width="1.9" height="1.9" fill="#909090" stroke="#000" stroke-width="0.75"/>
<rect x="511.29" y="280.89" width="1.9" height="1.9" fill="#909090" stroke="#000" stroke-width="0.75"/>
<rect x="510.74" y="291.05" width="1.9" height="1.9" fill="#909090" stroke="#000" stroke-width="0.75"/>
<rect x="512.03" y="292.89" width="1.9" height="1.9" fill="#909090" stroke="#000" stroke-width="0.75"/>
<rect x="511.29" y="297.88" width="1.9" height="1.9" fill="#909090" stroke="#000" stroke-width="0.75"/>
<path d="M425.3 253.35V316H520" stroke="#000" stroke-width="1" fill="none"/>
<path d="M437.05 316v1.6" stroke="#000" stroke-width="0.9"/>
<path d="M460.25 316v1.6" stroke="#000" stroke-width="0.9"/>
<path d="M483.55 316v1.6" stroke="#000" stroke-width="0.9"/>
<path d="M507.05 316v1.6" stroke="#000" stroke-width="0.9"/>
<path d="M423.5 316H425.3" stroke="#000" stroke-width="0.9"/>
<text x="422.5" y="318.16" text-anchor="end" font-size="6.0" font-weight="bold">0.0</text>
<path d="M423.5 295.3H425.3" stroke="#000" stroke-width="0.9"/>
<text x="422.5" y="297.46" text-anchor="end" font-size="6.0" font-weight="bold">0.2</text>
<path d="M423.5 274.6H425.3" stroke="#000" stroke-width="0.9"/>
<text x="422.5" y="276.76" text-anchor="end" font-size="6.0" font-weight="bold">0.4</text>
<path d="M423.5 253.8H425.3" stroke="#000" stroke-width="0.9"/>
<text x="422.5" y="255.96" text-anchor="end" font-size="6.0" font-weight="bold">0.6</text>
<text transform="translate(411.3,283.8) rotate(-90)" text-anchor="middle" font-size="6.0" font-weight="bold">CD8<tspan dy="-2.28" font-size="3.72">+</tspan><tspan dy="2.28">YFP</tspan><tspan dy="-2.28" font-size="3.72">+</tspan><tspan dy="2.28"> cells x 10</tspan><tspan dy="-2.28" font-size="3.72">6</tspan></text>
<path d="M432.31 270.21H442.09" stroke="#000" stroke-width="0.9"/>
<text x="437.2" y="269.86" text-anchor="middle" font-size="6.4" letter-spacing="0.5" font-weight="bold" style="stroke-width:.22px">**</text>
</g>
<circle cx="47.8" cy="9.5" r="1.2" fill="#000"/>
<text x="54.4" y="11.62" font-size="5.9" font-weight="bold">IgG</text>
<rect x="46.8" y="16.5" width="2" height="2" fill="#777" stroke="#222" stroke-width="0.8"/>
<text x="54.4" y="19.62" font-size="5.9" font-weight="bold"><tspan font-weight="normal" fill="#444">α</tspan>IL-6R</text>
<circle cx="47.8" cy="120" r="1.2" fill="#000"/>
<text x="54.4" y="122.12" font-size="5.9" font-weight="bold">IgG</text>
<rect x="46.8" y="126.8" width="2" height="2" fill="#fff" stroke="#000" stroke-width="0.8"/>
<text x="54.4" y="129.92" font-size="5.9" font-weight="bold"><tspan font-weight="normal" fill="#777">α</tspan><tspan fill="#444">TGF</tspan><tspan font-weight="normal" fill="#777">β</tspan></text>
<circle cx="47.8" cy="242.2" r="1.2" fill="#000"/>
<text x="54.2" y="244.32" font-size="5.9" font-weight="bold">IgG2a</text>
<rect x="46.8" y="249.6" width="2" height="2" fill="#777" stroke="#222" stroke-width="0.8"/>
<text x="54.2" y="252.72" font-size="5.9" font-weight="bold"><tspan font-weight="normal" fill="#444">α</tspan>-IL-12/IL-23 p40</text>
<circle cx="305.6" cy="2.6" r="1.2" fill="#000"/>
<text x="312.5" y="4.72" font-size="5.9" font-weight="normal" style="stroke-width:.3px">IgG<tspan dy="1.4" font-size="4">1</tspan></text>
<rect x="304.6" y="9.8" width="2" height="2" fill="#777" stroke="#222" stroke-width="0.8"/>
<text x="312.5" y="12.92" font-size="5.9" font-weight="normal" style="stroke-width:.3px"><tspan font-weight="normal" fill="#444">α</tspan>IFN<tspan font-weight="normal" fill="#444">γ</tspan></text>
<circle cx="310.2" cy="124" r="1.2" fill="#000"/>
<text x="317" y="126.12" font-size="5.9" font-weight="bold">Bm1 (D7)</text>
<rect x="309.2" y="131.7" width="2" height="2" fill="#444" stroke="#222" stroke-width="0.8"/>
<text x="317" y="134.82" font-size="5.9" font-weight="bold">Bm1 (D12)</text>
<circle cx="312" cy="235.5" r="1.2" fill="#000"/>
<text x="318.8" y="237.62" font-size="5.9" font-weight="bold">DC Intact</text>
<rect x="311" y="242.8" width="2" height="2" fill="#444" stroke="#222" stroke-width="0.8"/>
<text x="318.8" y="245.92" font-size="5.9" font-weight="bold">DC Depleted</text>
<text x="0.2" y="21.3" font-size="11.8" font-weight="bold">A</text>
<text x="0.2" y="132" font-size="11.8" font-weight="bold">B</text>
<text x="0.2" y="245" font-size="11.8" font-weight="bold">C</text>
<text x="260.5" y="21.2" font-size="11.8" font-weight="bold">D</text>
<text x="260.5" y="133" font-size="11.8" font-weight="bold">E</text>
<text x="260.5" y="245.5" font-size="11.8" font-weight="bold">F</text>
</svg></body></html>
